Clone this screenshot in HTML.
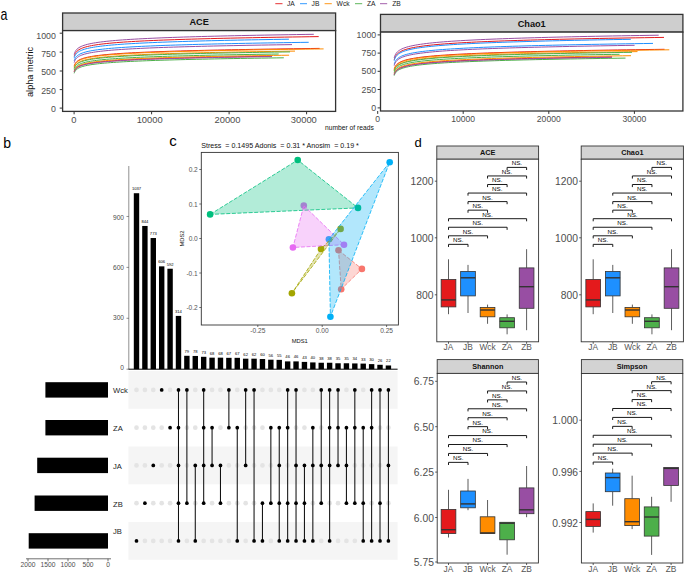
<!DOCTYPE html>
<html>
<head>
<meta charset="utf-8">
<title>Figure</title>
<style>
html, body { margin: 0; padding: 0; background: #ffffff; }
body { width: 685px; height: 574px; overflow: hidden; font-family: "Liberation Sans", sans-serif; }
svg { display: block; }
svg text { font-family: "Liberation Sans", sans-serif; }
</style>
</head>
<body>
<svg width="685" height="574" viewBox="0 0 685 574">
<rect x="0" y="0" width="685" height="574" fill="#ffffff"/>
<text x="0.00" y="0.00" font-size="16.0" fill="#000" text-anchor="start" font-weight="normal" transform="translate(0.4,19.7) scale(0.78,1)">a</text>
<text x="3.20" y="147.80" font-size="14" fill="#000" text-anchor="start" font-weight="normal" >b</text>
<text x="169.20" y="145.60" font-size="15" fill="#000" text-anchor="start" font-weight="normal" >c</text>
<text x="414.60" y="147.00" font-size="13" fill="#000" text-anchor="start" font-weight="normal" >d</text>
<line x1="275.30" y1="3.70" x2="282.50" y2="3.70" stroke="#E41A1C" stroke-width="0.9" />
<text x="286.90" y="6.10" font-size="6.7" fill="#1a1a1a" text-anchor="start" font-weight="normal" >JA</text>
<line x1="300.00" y1="3.70" x2="307.00" y2="3.70" stroke="#1E90FF" stroke-width="0.9" />
<text x="311.60" y="6.10" font-size="6.7" fill="#1a1a1a" text-anchor="start" font-weight="normal" >JB</text>
<line x1="324.60" y1="3.70" x2="331.80" y2="3.70" stroke="#FF8C00" stroke-width="0.9" />
<text x="336.60" y="6.10" font-size="6.7" fill="#1a1a1a" text-anchor="start" font-weight="normal" >Wck</text>
<line x1="355.00" y1="3.70" x2="362.20" y2="3.70" stroke="#4DAF4A" stroke-width="0.9" />
<text x="367.00" y="6.10" font-size="6.7" fill="#1a1a1a" text-anchor="start" font-weight="normal" >ZA</text>
<line x1="380.00" y1="3.70" x2="387.20" y2="3.70" stroke="#984EA3" stroke-width="0.9" />
<text x="392.20" y="6.10" font-size="6.7" fill="#1a1a1a" text-anchor="start" font-weight="normal" >ZB</text>
<rect x="62.60" y="13.00" width="273.00" height="17.60" fill="#cecece" stroke="#333" stroke-width="1.3" />
<rect x="62.60" y="30.60" width="273.00" height="80.80" fill="#fff" stroke="#333" stroke-width="1.3" />
<text x="199.10" y="25.30" font-size="9.2" fill="#111" text-anchor="middle" font-weight="bold" >ACE</text>
<line x1="59.70" y1="33.20" x2="62.60" y2="33.20" stroke="#333" stroke-width="1.0" />
<text x="55.90" y="38.50" font-size="8.8" fill="#4d4d4d" text-anchor="end" font-weight="normal" >1000</text>
<line x1="59.70" y1="52.10" x2="62.60" y2="52.10" stroke="#333" stroke-width="1.0" />
<text x="55.90" y="56.70" font-size="8.8" fill="#4d4d4d" text-anchor="end" font-weight="normal" >750</text>
<line x1="59.70" y1="71.00" x2="62.60" y2="71.00" stroke="#333" stroke-width="1.0" />
<text x="55.90" y="75.30" font-size="8.8" fill="#4d4d4d" text-anchor="end" font-weight="normal" >500</text>
<line x1="59.70" y1="89.60" x2="62.60" y2="89.60" stroke="#333" stroke-width="1.0" />
<text x="55.90" y="93.60" font-size="8.8" fill="#4d4d4d" text-anchor="end" font-weight="normal" >250</text>
<line x1="59.70" y1="108.10" x2="62.60" y2="108.10" stroke="#333" stroke-width="1.0" />
<text x="55.90" y="111.80" font-size="8.8" fill="#4d4d4d" text-anchor="end" font-weight="normal" >0</text>
<line x1="74.10" y1="111.40" x2="74.10" y2="114.30" stroke="#333" stroke-width="1.0" />
<text x="73.90" y="122.90" font-size="9.4" fill="#4d4d4d" text-anchor="middle" font-weight="normal" >0</text>
<line x1="151.60" y1="111.40" x2="151.60" y2="114.30" stroke="#333" stroke-width="1.0" />
<text x="149.70" y="122.90" font-size="9.4" fill="#4d4d4d" text-anchor="middle" font-weight="normal" >10000</text>
<line x1="229.10" y1="111.40" x2="229.10" y2="114.30" stroke="#333" stroke-width="1.0" />
<text x="227.50" y="122.90" font-size="9.4" fill="#4d4d4d" text-anchor="middle" font-weight="normal" >20000</text>
<line x1="306.60" y1="111.40" x2="306.60" y2="114.30" stroke="#333" stroke-width="1.0" />
<text x="303.80" y="122.90" font-size="9.4" fill="#4d4d4d" text-anchor="middle" font-weight="normal" >30000</text>
<text x="0.00" y="0.00" font-size="9.2" fill="#111" text-anchor="middle" font-weight="normal" transform="translate(33.0,72) rotate(-90)">alpha metric</text>
<text x="349.40" y="130.30" font-size="6.7" fill="#111" text-anchor="middle" font-weight="normal" >number of reads</text>
<polyline points="74.20,56.44 74.23,56.32 74.34,55.89 74.54,55.23 74.83,54.43 75.23,53.57 75.74,52.72 76.37,51.90 77.10,51.13 77.96,50.41 78.95,49.73 80.05,49.10 81.29,48.51 82.65,47.96 84.15,47.44 85.78,46.95 87.55,46.49 89.45,46.05 91.50,45.63 93.68,45.24 96.01,44.86 98.48,44.50 101.10,44.16 103.86,43.83 106.77,43.51 109.83,43.21 113.04,42.92 116.40,42.63 119.92,42.36 123.59,42.10 127.41,41.84 131.39,41.60 135.53,41.36 139.83,41.13 144.28,40.90 148.90,40.68 153.67,40.47 158.61,40.26 163.71,40.06 168.97,39.87 174.40,39.68 180.00,39.49 185.76,39.31 191.68,39.13 197.78,38.95 204.04,38.78 210.47,38.62 217.08,38.45 223.85,38.29 230.79,38.14 237.91,37.98 245.20,37.83 252.67,37.69 260.30,37.54 268.12,37.40 276.10,37.26 284.27,37.12 292.61,36.99 301.13,36.86 309.82,36.73 318.70,36.60" fill="none" stroke="#E41A1C" stroke-width="1.0" stroke-linejoin="round"/>
<polyline points="74.20,66.09 74.23,65.97 74.34,65.60 74.54,65.00 74.83,64.29 75.24,63.52 75.75,62.76 76.37,62.04 77.12,61.35 77.98,60.70 78.96,60.10 80.07,59.54 81.31,59.01 82.68,58.52 84.19,58.06 85.82,57.62 87.60,57.21 89.51,56.82 91.56,56.45 93.75,56.10 96.09,55.76 98.57,55.44 101.19,55.13 103.97,54.84 106.89,54.56 109.96,54.29 113.18,54.03 116.56,53.78 120.09,53.53 123.77,53.30 127.61,53.07 131.60,52.85 135.76,52.64 140.07,52.43 144.54,52.23 149.17,52.04 153.96,51.85 158.92,51.66 164.04,51.49 169.32,51.31 174.77,51.14 180.39,50.97 186.17,50.81 192.12,50.65 198.23,50.50 204.52,50.35 210.98,50.20 217.60,50.05 224.40,49.91 231.37,49.77 238.51,49.63 245.83,49.50 253.32,49.37 260.99,49.24 268.83,49.11 276.85,48.99 285.04,48.87 293.41,48.75 301.96,48.63 310.69,48.51 319.60,48.40" fill="none" stroke="#E41A1C" stroke-width="1.0" stroke-linejoin="round"/>
<polyline points="74.20,71.85 74.22,71.76 74.31,71.48 74.47,71.02 74.71,70.44 75.04,69.82 75.45,69.18 75.95,68.55 76.55,67.96 77.25,67.39 78.04,66.86 78.94,66.36 79.93,65.89 81.04,65.44 82.25,65.03 83.57,64.63 85.00,64.26 86.54,63.91 88.19,63.57 89.96,63.25 91.84,62.94 93.84,62.65 95.96,62.37 98.19,62.10 100.55,61.85 103.02,61.60 105.62,61.36 108.34,61.13 111.19,60.91 114.15,60.69 117.25,60.49 120.47,60.28 123.82,60.09 127.29,59.90 130.90,59.72 134.63,59.54 138.49,59.36 142.49,59.20 146.61,59.03 150.87,58.87 155.26,58.71 159.79,58.56 164.45,58.41 169.24,58.27 174.17,58.12 179.24,57.99 184.45,57.85 189.79,57.72 195.27,57.59 200.88,57.46 206.64,57.33 212.54,57.21 218.58,57.09 224.76,56.97 231.08,56.85 237.54,56.74 244.14,56.63 250.89,56.52 257.78,56.41 264.82,56.30 272.00,56.20" fill="none" stroke="#E41A1C" stroke-width="1.0" stroke-linejoin="round"/>
<polyline points="74.20,58.13 74.23,58.02 74.32,57.65 74.49,57.07 74.76,56.35 75.11,55.56 75.55,54.78 76.10,54.01 76.75,53.28 77.51,52.60 78.37,51.95 79.34,51.35 80.42,50.78 81.62,50.25 82.94,49.75 84.37,49.27 85.92,48.82 87.59,48.40 89.39,48.00 91.31,47.61 93.35,47.25 95.52,46.90 97.82,46.57 100.24,46.25 102.80,45.94 105.49,45.64 108.31,45.36 111.26,45.08 114.35,44.82 117.57,44.56 120.93,44.31 124.42,44.07 128.06,43.84 131.83,43.61 135.74,43.40 139.79,43.18 143.99,42.98 148.32,42.77 152.80,42.58 157.42,42.39 162.19,42.20 167.10,42.02 172.16,41.84 177.36,41.67 182.72,41.50 188.22,41.33 193.86,41.17 199.66,41.01 205.61,40.85 211.71,40.70 217.96,40.55 224.36,40.40 230.91,40.26 237.62,40.12 244.48,39.98 251.50,39.84 258.66,39.71 265.99,39.58 273.47,39.45 281.11,39.32 288.90,39.20" fill="none" stroke="#1E90FF" stroke-width="1.0" stroke-linejoin="round"/>
<polyline points="74.20,60.96 74.23,60.84 74.33,60.46 74.52,59.85 74.81,59.11 75.19,58.32 75.68,57.52 76.28,56.76 76.99,56.04 77.81,55.36 78.75,54.72 79.81,54.13 81.00,53.57 82.31,53.05 83.74,52.56 85.31,52.10 87.00,51.66 88.83,51.24 90.79,50.85 92.88,50.48 95.12,50.12 97.49,49.78 100.00,49.46 102.65,49.15 105.44,48.85 108.37,48.56 111.45,48.28 114.68,48.01 118.05,47.76 121.57,47.51 125.24,47.27 129.05,47.03 133.02,46.81 137.14,46.59 141.41,46.37 145.84,46.17 150.42,45.97 155.16,45.77 160.05,45.58 165.10,45.39 170.30,45.21 175.67,45.04 181.19,44.86 186.88,44.69 192.72,44.53 198.73,44.37 204.90,44.21 211.23,44.06 217.73,43.90 224.39,43.76 231.22,43.61 238.21,43.47 245.37,43.33 252.69,43.19 260.18,43.06 267.85,42.93 275.68,42.80 283.68,42.67 291.85,42.54 300.19,42.42 308.70,42.30" fill="none" stroke="#1E90FF" stroke-width="1.0" stroke-linejoin="round"/>
<polyline points="74.20,66.55 74.23,66.43 74.34,66.05 74.54,65.45 74.84,64.73 75.25,63.97 75.77,63.21 76.41,62.48 77.16,61.79 78.04,61.15 79.04,60.55 80.17,59.99 81.43,59.46 82.82,58.97 84.35,58.51 86.01,58.08 87.82,57.67 89.76,57.28 91.84,56.91 94.07,56.56 96.44,56.22 98.97,55.91 101.63,55.60 104.45,55.31 107.42,55.03 110.54,54.76 113.82,54.50 117.25,54.25 120.83,54.01 124.58,53.77 128.48,53.55 132.54,53.33 136.76,53.12 141.14,52.91 145.69,52.71 150.39,52.52 155.26,52.33 160.30,52.15 165.50,51.97 170.87,51.80 176.41,51.63 182.12,51.46 187.99,51.30 194.04,51.14 200.25,50.99 206.64,50.84 213.21,50.69 219.94,50.54 226.85,50.40 233.93,50.26 241.19,50.13 248.63,49.99 256.24,49.86 264.03,49.74 272.00,49.61 280.15,49.49 288.48,49.36 296.99,49.25 305.68,49.13 314.55,49.01 323.60,48.90" fill="none" stroke="#FF8C00" stroke-width="1.0" stroke-linejoin="round"/>
<polyline points="74.20,67.98 74.23,67.88 74.32,67.54 74.50,67.01 74.77,66.36 75.13,65.66 75.59,64.95 76.16,64.27 76.82,63.61 77.60,63.00 78.49,62.43 79.49,61.89 80.60,61.38 81.83,60.91 83.19,60.46 84.66,60.04 86.25,59.64 87.97,59.27 89.82,58.91 91.79,58.57 93.89,58.24 96.13,57.93 98.49,57.64 100.98,57.35 103.61,57.08 106.38,56.82 109.28,56.56 112.31,56.32 115.49,56.08 118.80,55.86 122.25,55.64 125.85,55.42 129.59,55.22 133.46,55.02 137.49,54.82 141.66,54.63 145.97,54.45 150.43,54.27 155.03,54.10 159.79,53.93 164.69,53.76 169.74,53.60 174.94,53.44 180.30,53.29 185.80,53.14 191.46,52.99 197.26,52.85 203.23,52.70 209.34,52.57 215.62,52.43 222.04,52.30 228.63,52.17 235.37,52.04 242.26,51.92 249.32,51.79 256.53,51.67 263.91,51.55 271.44,51.44 279.13,51.32 286.98,51.21 295.00,51.10" fill="none" stroke="#FF8C00" stroke-width="1.0" stroke-linejoin="round"/>
<polyline points="74.20,71.26 74.23,71.17 74.32,70.86 74.50,70.36 74.76,69.75 75.11,69.08 75.56,68.42 76.10,67.77 76.75,67.15 77.51,66.56 78.37,66.02 79.34,65.50 80.43,65.02 81.63,64.57 82.95,64.15 84.38,63.74 85.93,63.37 87.61,63.01 89.40,62.66 91.32,62.34 93.37,62.03 95.54,61.73 97.84,61.45 100.27,61.18 102.83,60.92 105.52,60.66 108.34,60.42 111.29,60.19 114.38,59.97 117.61,59.75 120.97,59.54 124.47,59.33 128.11,59.14 131.88,58.95 135.80,58.76 139.85,58.58 144.05,58.40 148.39,58.23 152.87,58.06 157.50,57.90 162.27,57.74 167.19,57.59 172.25,57.44 177.46,57.29 182.82,57.15 188.32,57.01 193.98,56.87 199.78,56.73 205.73,56.60 211.84,56.47 218.09,56.35 224.50,56.22 231.06,56.10 237.77,55.98 244.64,55.86 251.66,55.75 258.84,55.63 266.17,55.52 273.66,55.41 281.30,55.31 289.10,55.20" fill="none" stroke="#FF8C00" stroke-width="1.0" stroke-linejoin="round"/>
<polyline points="74.20,68.56 74.23,68.47 74.32,68.14 74.50,67.63 74.76,66.99 75.11,66.30 75.56,65.61 76.11,64.93 76.76,64.29 77.52,63.69 78.39,63.12 79.37,62.59 80.46,62.09 81.66,61.62 82.98,61.18 84.42,60.76 85.98,60.37 87.66,59.99 89.47,59.64 91.39,59.30 93.45,58.98 95.63,58.67 97.94,58.38 100.38,58.10 102.95,57.83 105.65,57.57 108.48,57.32 111.45,57.07 114.55,56.84 117.79,56.62 121.17,56.40 124.68,56.19 128.33,55.98 132.12,55.78 136.05,55.59 140.13,55.40 144.34,55.22 148.70,55.04 153.20,54.87 157.85,54.70 162.64,54.54 167.58,54.38 172.66,54.22 177.89,54.07 183.27,53.92 188.80,53.77 194.48,53.63 200.31,53.49 206.28,53.35 212.41,53.22 218.69,53.09 225.13,52.96 231.72,52.83 238.46,52.71 245.35,52.59 252.40,52.47 259.61,52.35 266.97,52.23 274.49,52.12 282.17,52.01 290.00,51.90" fill="none" stroke="#4DAF4A" stroke-width="1.0" stroke-linejoin="round"/>
<polyline points="74.20,70.13 74.23,70.04 74.32,69.74 74.48,69.26 74.73,68.66 75.06,68.00 75.49,67.34 76.01,66.69 76.63,66.07 77.35,65.49 78.17,64.94 79.10,64.42 80.13,63.94 81.27,63.48 82.52,63.05 83.89,62.65 85.36,62.27 86.96,61.90 88.67,61.56 90.49,61.23 92.44,60.91 94.51,60.61 96.70,60.33 99.01,60.05 101.44,59.79 104.00,59.53 106.69,59.29 109.50,59.05 112.44,58.83 115.51,58.61 118.71,58.39 122.04,58.19 125.50,57.99 129.09,57.79 132.82,57.61 136.68,57.42 140.67,57.24 144.80,57.07 149.07,56.90 153.47,56.74 158.01,56.58 162.69,56.42 167.51,56.27 172.46,56.12 177.56,55.97 182.80,55.83 188.18,55.69 193.70,55.55 199.37,55.42 205.18,55.29 211.13,55.16 217.23,55.03 223.47,54.91 229.86,54.79 236.39,54.67 243.07,54.55 249.90,54.44 256.88,54.33 264.00,54.22 271.28,54.11 278.70,54.00" fill="none" stroke="#4DAF4A" stroke-width="1.0" stroke-linejoin="round"/>
<polyline points="74.20,73.32 74.23,73.24 74.32,72.94 74.49,72.47 74.74,71.88 75.09,71.25 75.52,70.61 76.06,69.98 76.69,69.38 77.43,68.82 78.27,68.29 79.22,67.80 80.28,67.33 81.45,66.89 82.73,66.48 84.13,66.09 85.64,65.72 87.28,65.37 89.03,65.04 90.90,64.73 92.89,64.43 95.01,64.14 97.26,63.86 99.62,63.60 102.12,63.35 104.74,63.10 107.50,62.87 110.38,62.64 113.39,62.43 116.54,62.21 119.82,62.01 123.23,61.81 126.78,61.62 130.46,61.44 134.28,61.26 138.23,61.08 142.33,60.91 146.56,60.74 150.93,60.58 155.45,60.42 160.10,60.27 164.89,60.12 169.83,59.97 174.91,59.83 180.14,59.69 185.51,59.55 191.02,59.42 196.68,59.29 202.49,59.16 208.44,59.04 214.54,58.91 220.79,58.79 227.19,58.67 233.74,58.56 240.44,58.44 247.28,58.33 254.28,58.22 261.43,58.11 268.74,58.01 276.19,57.90 283.80,57.80" fill="none" stroke="#4DAF4A" stroke-width="1.0" stroke-linejoin="round"/>
<polyline points="74.20,54.49 74.23,54.37 74.33,53.94 74.53,53.28 74.82,52.46 75.21,51.60 75.71,50.74 76.32,49.91 77.05,49.13 77.89,48.39 78.85,47.70 79.94,47.06 81.15,46.46 82.48,45.89 83.95,45.36 85.55,44.87 87.28,44.39 89.15,43.95 91.15,43.52 93.29,43.12 95.57,42.74 97.99,42.37 100.56,42.02 103.26,41.68 106.12,41.36 109.12,41.05 112.26,40.75 115.56,40.46 119.00,40.18 122.60,39.92 126.35,39.66 130.25,39.40 134.30,39.16 138.51,38.92 142.88,38.69 147.40,38.47 152.08,38.25 156.92,38.04 161.92,37.84 167.07,37.64 172.39,37.44 177.88,37.25 183.52,37.06 189.33,36.88 195.30,36.70 201.44,36.53 207.74,36.36 214.21,36.19 220.85,36.03 227.66,35.87 234.63,35.71 241.77,35.56 249.09,35.41 256.57,35.26 264.23,35.12 272.06,34.98 280.06,34.84 288.23,34.70 296.58,34.56 305.10,34.43 313.80,34.30" fill="none" stroke="#984EA3" stroke-width="1.0" stroke-linejoin="round"/>
<polyline points="74.20,62.60 74.23,62.50 74.32,62.15 74.50,61.59 74.76,60.89 75.12,60.15 75.57,59.40 76.13,58.67 76.79,57.97 77.55,57.32 78.43,56.71 79.41,56.13 80.51,55.59 81.73,55.09 83.06,54.61 84.52,54.16 86.09,53.73 87.79,53.33 89.61,52.95 91.55,52.59 93.63,52.24 95.83,51.91 98.16,51.59 100.62,51.29 103.21,50.99 105.94,50.71 108.80,50.44 111.79,50.18 114.93,49.93 118.19,49.69 121.60,49.45 125.15,49.22 128.83,49.00 132.66,48.79 136.63,48.58 140.74,48.38 144.99,48.18 149.39,47.99 153.94,47.80 158.62,47.62 163.46,47.45 168.44,47.27 173.57,47.10 178.85,46.94 184.28,46.78 189.86,46.62 195.59,46.47 201.47,46.32 207.51,46.17 213.69,46.02 220.03,45.88 226.53,45.74 233.18,45.61 239.98,45.47 246.94,45.34 254.06,45.21 261.33,45.09 268.76,44.96 276.35,44.84 284.09,44.72 292.00,44.60" fill="none" stroke="#984EA3" stroke-width="1.0" stroke-linejoin="round"/>
<polyline points="74.20,72.18 74.22,72.09 74.31,71.81 74.47,71.35 74.71,70.78 75.04,70.16 75.45,69.52 75.95,68.90 76.55,68.30 77.25,67.74 78.04,67.21 78.94,66.71 79.93,66.24 81.04,65.80 82.25,65.39 83.57,64.99 85.00,64.62 86.54,64.27 88.19,63.94 89.96,63.62 91.84,63.31 93.84,63.02 95.96,62.74 98.19,62.48 100.55,62.22 103.02,61.97 105.62,61.74 108.34,61.51 111.19,61.29 114.15,61.07 117.25,60.87 120.47,60.67 123.82,60.47 127.29,60.28 130.90,60.10 134.63,59.92 138.49,59.75 142.49,59.58 146.61,59.42 150.87,59.26 155.26,59.10 159.79,58.95 164.45,58.80 169.24,58.66 174.17,58.52 179.24,58.38 184.45,58.24 189.79,58.11 195.27,57.98 200.88,57.85 206.64,57.73 212.54,57.60 218.58,57.48 224.76,57.37 231.08,57.25 237.54,57.14 244.14,57.03 250.89,56.92 257.78,56.81 264.82,56.70 272.00,56.60" fill="none" stroke="#984EA3" stroke-width="1.0" stroke-linejoin="round"/>
<rect x="380.50" y="14.40" width="302.40" height="17.70" fill="#cecece" stroke="#333" stroke-width="1.3" />
<rect x="380.50" y="32.10" width="302.40" height="78.90" fill="#fff" stroke="#333" stroke-width="1.3" />
<text x="531.70" y="26.60" font-size="9.2" fill="#111" text-anchor="middle" font-weight="bold" >Chao1</text>
<line x1="377.60" y1="34.90" x2="380.50" y2="34.90" stroke="#333" stroke-width="1.0" />
<text x="376.20" y="38.00" font-size="8.8" fill="#4d4d4d" text-anchor="end" font-weight="normal" >1000</text>
<line x1="377.60" y1="53.10" x2="380.50" y2="53.10" stroke="#333" stroke-width="1.0" />
<text x="376.20" y="56.20" font-size="8.8" fill="#4d4d4d" text-anchor="end" font-weight="normal" >750</text>
<line x1="377.60" y1="71.30" x2="380.50" y2="71.30" stroke="#333" stroke-width="1.0" />
<text x="376.20" y="74.40" font-size="8.8" fill="#4d4d4d" text-anchor="end" font-weight="normal" >500</text>
<line x1="377.60" y1="89.50" x2="380.50" y2="89.50" stroke="#333" stroke-width="1.0" />
<text x="376.20" y="92.60" font-size="8.8" fill="#4d4d4d" text-anchor="end" font-weight="normal" >250</text>
<line x1="377.60" y1="107.90" x2="380.50" y2="107.90" stroke="#333" stroke-width="1.0" />
<text x="376.20" y="111.00" font-size="8.8" fill="#4d4d4d" text-anchor="end" font-weight="normal" >0</text>
<line x1="377.70" y1="111.00" x2="377.70" y2="113.90" stroke="#333" stroke-width="1.0" />
<text x="377.70" y="122.20" font-size="8.6" fill="#4d4d4d" text-anchor="middle" font-weight="normal" >0</text>
<line x1="463.20" y1="111.00" x2="463.20" y2="113.90" stroke="#333" stroke-width="1.0" />
<text x="463.20" y="122.20" font-size="8.6" fill="#4d4d4d" text-anchor="middle" font-weight="normal" >10000</text>
<line x1="548.80" y1="111.00" x2="548.80" y2="113.90" stroke="#333" stroke-width="1.0" />
<text x="548.80" y="122.20" font-size="8.6" fill="#4d4d4d" text-anchor="middle" font-weight="normal" >20000</text>
<line x1="634.40" y1="111.00" x2="634.40" y2="113.90" stroke="#333" stroke-width="1.0" />
<text x="634.40" y="122.20" font-size="8.6" fill="#4d4d4d" text-anchor="middle" font-weight="normal" >30000</text>
<polyline points="394.20,59.81 394.23,59.66 394.35,59.19 394.57,58.44 394.90,57.53 395.34,56.56 395.90,55.60 396.59,54.68 397.41,53.81 398.35,52.99 399.44,52.23 400.66,51.52 402.02,50.85 403.53,50.23 405.18,49.64 406.98,49.09 408.93,48.57 411.03,48.07 413.29,47.60 415.70,47.16 418.26,46.73 420.99,46.33 423.88,45.94 426.93,45.56 430.14,45.21 433.52,44.86 437.06,44.53 440.77,44.21 444.65,43.91 448.70,43.61 452.92,43.32 457.31,43.04 461.88,42.77 466.62,42.51 471.53,42.26 476.62,42.01 481.89,41.77 487.34,41.54 492.97,41.31 498.78,41.09 504.77,40.87 510.94,40.66 517.30,40.46 523.84,40.25 530.57,40.06 537.48,39.87 544.58,39.68 551.86,39.49 559.34,39.31 567.00,39.14 574.85,38.96 582.90,38.79 591.13,38.63 599.56,38.46 608.18,38.30 617.00,38.15 626.01,37.99 635.21,37.84 644.61,37.69 654.21,37.54 664.00,37.40" fill="none" stroke="#E41A1C" stroke-width="1.0" stroke-linejoin="round"/>
<polyline points="394.20,69.21 394.23,69.08 394.35,68.66 394.57,67.99 394.90,67.18 395.34,66.33 395.91,65.47 396.59,64.65 397.41,63.88 398.36,63.15 399.45,62.48 400.67,61.84 402.04,61.25 403.55,60.70 405.20,60.17 407.00,59.68 408.96,59.22 411.06,58.78 413.32,58.36 415.74,57.97 418.31,57.59 421.04,57.23 423.93,56.88 426.99,56.55 430.21,56.24 433.59,55.93 437.14,55.64 440.86,55.35 444.74,55.08 448.80,54.82 453.03,54.56 457.43,54.31 462.00,54.07 466.75,53.84 471.68,53.62 476.78,53.40 482.06,53.18 487.52,52.98 493.15,52.77 498.97,52.58 504.98,52.39 511.16,52.20 517.53,52.01 524.08,51.84 530.82,51.66 537.74,51.49 544.85,51.32 552.15,51.16 559.64,51.00 567.32,50.84 575.19,50.69 583.25,50.54 591.50,50.39 599.94,50.25 608.58,50.10 617.41,49.96 626.43,49.83 635.66,49.69 645.07,49.56 654.69,49.43 664.50,49.30" fill="none" stroke="#E41A1C" stroke-width="1.0" stroke-linejoin="round"/>
<polyline points="394.20,74.52 394.23,74.43 394.32,74.11 394.50,73.59 394.76,72.95 395.12,72.24 395.57,71.52 396.13,70.82 396.79,70.15 397.55,69.51 398.43,68.91 399.41,68.35 400.51,67.82 401.73,67.32 403.06,66.85 404.52,66.40 406.09,65.98 407.79,65.58 409.61,65.20 411.55,64.84 413.63,64.50 415.83,64.17 418.16,63.86 420.62,63.55 423.21,63.26 425.94,62.98 428.80,62.72 431.79,62.46 434.93,62.21 438.19,61.96 441.60,61.73 445.15,61.50 448.83,61.28 452.66,61.07 456.63,60.86 460.74,60.66 464.99,60.47 469.39,60.28 473.94,60.09 478.62,59.91 483.46,59.73 488.44,59.56 493.57,59.39 498.85,59.23 504.28,59.07 509.86,58.91 515.59,58.76 521.47,58.61 527.51,58.46 533.69,58.32 540.03,58.18 546.53,58.04 553.18,57.90 559.98,57.77 566.94,57.64 574.06,57.51 581.33,57.38 588.76,57.26 596.35,57.14 604.09,57.02 612.00,56.90" fill="none" stroke="#E41A1C" stroke-width="1.0" stroke-linejoin="round"/>
<polyline points="394.20,60.80 394.23,60.68 394.33,60.26 394.52,59.60 394.81,58.78 395.20,57.89 395.69,57.00 396.30,56.13 397.01,55.30 397.84,54.52 398.79,53.79 399.86,53.10 401.06,52.46 402.38,51.85 403.83,51.28 405.41,50.75 407.12,50.24 408.96,49.76 410.94,49.30 413.05,48.86 415.30,48.45 417.69,48.05 420.23,47.67 422.90,47.31 425.72,46.96 428.68,46.62 431.79,46.30 435.04,45.99 438.44,45.68 441.99,45.39 445.69,45.11 449.54,44.84 453.55,44.57 457.71,44.32 462.02,44.07 466.48,43.83 471.10,43.59 475.88,43.36 480.82,43.14 485.91,42.92 491.16,42.71 496.58,42.50 502.15,42.30 507.89,42.10 513.79,41.91 519.85,41.72 526.07,41.54 532.46,41.36 539.01,41.18 545.74,41.00 552.62,40.83 559.68,40.67 566.90,40.50 574.29,40.34 581.85,40.19 589.58,40.03 597.48,39.88 605.55,39.73 613.80,39.59 622.21,39.44 630.80,39.30" fill="none" stroke="#1E90FF" stroke-width="1.0" stroke-linejoin="round"/>
<polyline points="394.20,64.39 394.23,64.26 394.35,63.83 394.56,63.14 394.87,62.31 395.29,61.42 395.83,60.53 396.49,59.67 397.27,58.85 398.18,58.09 399.22,57.37 400.40,56.71 401.70,56.08 403.15,55.49 404.73,54.94 406.46,54.42 408.33,53.93 410.34,53.46 412.51,53.02 414.82,52.60 417.28,52.20 419.90,51.82 422.67,51.45 425.59,51.10 428.67,50.76 431.91,50.44 435.31,50.13 438.87,49.83 442.59,49.54 446.48,49.26 450.52,48.99 454.74,48.72 459.12,48.47 463.66,48.22 468.38,47.98 473.26,47.75 478.32,47.52 483.55,47.30 488.94,47.09 494.52,46.88 500.26,46.68 506.18,46.48 512.28,46.28 518.55,46.09 525.01,45.91 531.64,45.73 538.44,45.55 545.43,45.38 552.60,45.21 559.95,45.04 567.49,44.88 575.20,44.72 583.10,44.56 591.19,44.40 599.46,44.25 607.91,44.10 616.55,43.96 625.38,43.82 634.40,43.67 643.61,43.54 653.00,43.40" fill="none" stroke="#1E90FF" stroke-width="1.0" stroke-linejoin="round"/>
<polyline points="394.20,69.67 394.23,69.54 394.35,69.11 394.58,68.44 394.91,67.62 395.36,66.76 395.94,65.91 396.64,65.09 397.47,64.31 398.44,63.59 399.54,62.91 400.79,62.28 402.18,61.69 403.71,61.14 405.40,60.62 407.23,60.13 409.22,59.67 411.36,59.23 413.66,58.82 416.12,58.42 418.74,58.05 421.52,57.69 424.46,57.35 427.57,57.02 430.85,56.70 434.29,56.40 437.90,56.10 441.69,55.82 445.64,55.55 449.77,55.29 454.07,55.03 458.55,54.79 463.21,54.55 468.04,54.32 473.05,54.09 478.24,53.88 483.62,53.66 489.17,53.46 494.91,53.26 500.84,53.06 506.94,52.87 513.24,52.68 519.72,52.50 526.39,52.32 533.24,52.15 540.29,51.98 547.53,51.81 554.96,51.65 562.58,51.49 570.39,51.33 578.40,51.18 586.60,51.03 595.00,50.88 603.59,50.74 612.38,50.60 621.37,50.46 630.56,50.32 639.94,50.19 649.53,50.06 659.31,49.93 669.30,49.80" fill="none" stroke="#FF8C00" stroke-width="1.0" stroke-linejoin="round"/>
<polyline points="394.20,70.67 394.23,70.56 394.34,70.18 394.53,69.58 394.83,68.85 395.23,68.05 395.74,67.25 396.35,66.48 397.09,65.75 397.95,65.05 398.92,64.40 400.02,63.79 401.25,63.22 402.61,62.69 404.10,62.18 405.72,61.71 407.48,61.26 409.38,60.83 411.41,60.43 413.59,60.04 415.90,59.68 418.36,59.33 420.96,58.99 423.71,58.67 426.61,58.36 429.65,58.06 432.85,57.78 436.20,57.50 439.69,57.24 443.35,56.98 447.15,56.73 451.11,56.49 455.23,56.25 459.50,56.03 463.94,55.81 468.53,55.59 473.28,55.39 478.19,55.18 483.27,54.99 488.51,54.80 493.91,54.61 499.48,54.43 505.21,54.25 511.11,54.07 517.17,53.90 523.40,53.74 529.81,53.57 536.38,53.41 543.12,53.26 550.03,53.10 557.11,52.95 564.36,52.81 571.79,52.66 579.39,52.52 587.16,52.38 595.11,52.25 603.24,52.11 611.54,51.98 620.01,51.85 628.67,51.72 637.50,51.60" fill="none" stroke="#FF8C00" stroke-width="1.0" stroke-linejoin="round"/>
<polyline points="394.20,73.84 394.23,73.73 394.33,73.38 394.53,72.82 394.81,72.13 395.20,71.38 395.69,70.63 396.30,69.90 397.01,69.20 397.85,68.54 398.80,67.92 399.87,67.34 401.07,66.80 402.39,66.29 403.84,65.81 405.42,65.35 407.13,64.92 408.97,64.52 410.95,64.13 413.07,63.76 415.32,63.41 417.71,63.08 420.25,62.76 422.92,62.45 425.74,62.16 428.71,61.87 431.82,61.60 435.07,61.34 438.48,61.08 442.03,60.84 445.74,60.60 449.59,60.37 453.60,60.15 457.76,59.93 462.07,59.72 466.54,59.52 471.17,59.32 475.95,59.12 480.89,58.94 485.99,58.75 491.25,58.57 496.66,58.40 502.24,58.23 507.98,58.06 513.89,57.90 519.95,57.74 526.18,57.59 532.58,57.43 539.14,57.28 545.86,57.14 552.76,56.99 559.82,56.85 567.04,56.72 574.44,56.58 582.01,56.45 589.75,56.32 597.65,56.19 605.73,56.06 613.98,55.94 622.40,55.82 631.00,55.70" fill="none" stroke="#FF8C00" stroke-width="1.0" stroke-linejoin="round"/>
<polyline points="394.20,71.15 394.23,71.04 394.33,70.68 394.53,70.09 394.81,69.37 395.20,68.59 395.70,67.81 396.31,67.05 397.03,66.32 397.86,65.64 398.82,64.99 399.89,64.39 401.09,63.83 402.42,63.30 403.88,62.80 405.46,62.33 407.18,61.88 409.03,61.46 411.02,61.06 413.15,60.68 415.41,60.31 417.81,59.96 420.36,59.63 423.05,59.31 425.88,59.01 428.85,58.71 431.98,58.43 435.25,58.16 438.67,57.89 442.23,57.64 445.95,57.39 449.83,57.15 453.85,56.92 458.03,56.69 462.36,56.48 466.85,56.26 471.49,56.06 476.30,55.86 481.26,55.66 486.38,55.47 491.66,55.29 497.10,55.10 502.70,54.93 508.46,54.75 514.39,54.59 520.48,54.42 526.74,54.26 533.16,54.10 539.75,53.94 546.50,53.79 553.43,53.64 560.52,53.50 567.77,53.36 575.20,53.21 582.80,53.08 590.57,52.94 598.51,52.81 606.62,52.68 614.91,52.55 623.37,52.42 632.00,52.30" fill="none" stroke="#4DAF4A" stroke-width="1.0" stroke-linejoin="round"/>
<polyline points="394.20,72.56 394.23,72.46 394.33,72.12 394.51,71.57 394.78,70.89 395.15,70.15 395.62,69.40 396.20,68.67 396.88,67.97 397.67,67.31 398.57,66.69 399.59,66.10 400.73,65.56 401.99,65.04 403.37,64.55 404.87,64.09 406.50,63.66 408.25,63.25 410.14,62.86 412.15,62.49 414.30,62.13 416.57,61.79 418.98,61.47 421.53,61.16 424.21,60.86 427.03,60.57 429.99,60.29 433.09,60.02 436.33,59.77 439.71,59.52 443.23,59.28 446.90,59.04 450.71,58.82 454.67,58.60 458.78,58.38 463.03,58.18 467.43,57.97 471.98,57.78 476.68,57.59 481.53,57.40 486.53,57.22 491.69,57.04 497.00,56.87 502.46,56.70 508.07,56.53 513.85,56.37 519.77,56.21 525.86,56.06 532.10,55.91 538.50,55.76 545.06,55.61 551.77,55.47 558.65,55.33 565.69,55.19 572.89,55.06 580.25,54.93 587.77,54.80 595.46,54.67 603.31,54.54 611.32,54.42 619.50,54.30" fill="none" stroke="#4DAF4A" stroke-width="1.0" stroke-linejoin="round"/>
<polyline points="394.20,75.67 394.23,75.57 394.33,75.24 394.52,74.70 394.80,74.04 395.18,73.32 395.66,72.59 396.25,71.89 396.95,71.21 397.76,70.58 398.69,69.98 399.74,69.42 400.91,68.89 402.20,68.39 403.61,67.93 405.16,67.49 406.83,67.07 408.63,66.67 410.56,66.30 412.63,65.94 414.83,65.60 417.17,65.28 419.64,64.97 422.26,64.67 425.01,64.38 427.91,64.10 430.94,63.84 434.12,63.58 437.45,63.34 440.92,63.10 444.54,62.87 448.31,62.64 452.22,62.43 456.28,62.22 460.50,62.01 464.86,61.81 469.38,61.62 474.05,61.43 478.88,61.25 483.86,61.07 488.99,60.90 494.28,60.73 499.73,60.56 505.34,60.40 511.11,60.24 517.03,60.09 523.12,59.93 529.36,59.79 535.77,59.64 542.34,59.50 549.07,59.36 555.97,59.22 563.03,59.09 570.26,58.96 577.65,58.83 585.20,58.70 592.93,58.58 600.82,58.45 608.88,58.33 617.10,58.22 625.50,58.10" fill="none" stroke="#4DAF4A" stroke-width="1.0" stroke-linejoin="round"/>
<polyline points="394.20,57.99 394.23,57.85 394.35,57.37 394.56,56.61 394.88,55.70 395.32,54.72 395.87,53.75 396.54,52.82 397.34,51.93 398.27,51.10 399.33,50.33 400.53,49.60 401.87,48.92 403.34,48.29 404.96,47.69 406.73,47.12 408.64,46.59 410.70,46.09 412.91,45.61 415.27,45.15 417.79,44.72 420.46,44.31 423.30,43.91 426.28,43.53 429.43,43.17 432.74,42.82 436.22,42.48 439.86,42.15 443.66,41.84 447.63,41.54 451.77,41.24 456.07,40.96 460.55,40.68 465.19,40.42 470.01,40.16 475.01,39.91 480.17,39.66 485.51,39.42 491.03,39.19 496.73,38.96 502.60,38.74 508.65,38.53 514.88,38.32 521.29,38.11 527.89,37.91 534.66,37.72 541.62,37.52 548.76,37.34 556.09,37.15 563.60,36.97 571.30,36.80 579.19,36.62 587.26,36.45 595.53,36.29 603.98,36.12 612.62,35.96 621.45,35.80 630.47,35.65 639.69,35.50 649.10,35.35 658.70,35.20" fill="none" stroke="#984EA3" stroke-width="1.0" stroke-linejoin="round"/>
<polyline points="394.20,65.63 394.23,65.51 394.34,65.11 394.53,64.48 394.82,63.70 395.22,62.86 395.72,62.01 396.33,61.18 397.06,60.40 397.90,59.66 398.87,58.97 399.96,58.32 401.17,57.71 402.51,57.14 403.98,56.60 405.59,56.09 407.32,55.61 409.20,55.16 411.21,54.73 413.35,54.32 415.64,53.93 418.07,53.55 420.64,53.19 423.36,52.85 426.22,52.52 429.23,52.20 432.39,51.90 435.70,51.60 439.15,51.32 442.76,51.04 446.52,50.78 450.43,50.52 454.50,50.27 458.73,50.03 463.11,49.80 467.64,49.57 472.34,49.34 477.19,49.13 482.21,48.92 487.38,48.71 492.72,48.51 498.22,48.32 503.89,48.13 509.71,47.94 515.71,47.76 521.86,47.58 528.19,47.41 534.68,47.24 541.34,47.07 548.17,46.91 555.17,46.75 562.33,46.59 569.67,46.44 577.18,46.28 584.86,46.14 592.72,45.99 600.75,45.85 608.95,45.71 617.32,45.57 625.87,45.43 634.60,45.30" fill="none" stroke="#984EA3" stroke-width="1.0" stroke-linejoin="round"/>
<polyline points="394.20,74.84 394.23,74.75 394.32,74.43 394.50,73.92 394.76,73.27 395.12,72.57 395.57,71.86 396.13,71.16 396.79,70.49 397.55,69.85 398.43,69.26 399.41,68.69 400.51,68.17 401.73,67.67 403.06,67.20 404.52,66.76 406.09,66.34 407.79,65.94 409.61,65.57 411.55,65.21 413.63,64.86 415.83,64.54 418.16,64.22 420.62,63.92 423.21,63.63 425.94,63.36 428.80,63.09 431.79,62.83 434.93,62.58 438.19,62.34 441.60,62.11 445.15,61.88 448.83,61.66 452.66,61.45 456.63,61.25 460.74,61.05 464.99,60.85 469.39,60.66 473.94,60.48 478.62,60.30 483.46,60.12 488.44,59.95 493.57,59.78 498.85,59.62 504.28,59.46 509.86,59.30 515.59,59.15 521.47,59.00 527.51,58.85 533.69,58.71 540.03,58.57 546.53,58.43 553.18,58.30 559.98,58.16 566.94,58.03 574.06,57.91 581.33,57.78 588.76,57.66 596.35,57.54 604.09,57.42 612.00,57.30" fill="none" stroke="#984EA3" stroke-width="1.0" stroke-linejoin="round"/>
<rect x="128.40" y="371.00" width="269.20" height="37.80" fill="#f5f5f5" stroke="none" stroke-width="1" />
<rect x="128.40" y="446.50" width="269.20" height="37.80" fill="#f5f5f5" stroke="none" stroke-width="1" />
<rect x="128.40" y="522.00" width="269.20" height="37.80" fill="#f5f5f5" stroke="none" stroke-width="1" />
<line x1="128.80" y1="166.00" x2="128.80" y2="369.20" stroke="#444" stroke-width="0.6" />
<line x1="126.50" y1="369.20" x2="128.80" y2="369.20" stroke="#444" stroke-width="0.6" />
<text x="124.00" y="369.75" font-size="6.6" fill="#4d4d4d" text-anchor="end" font-weight="normal" >0</text>
<line x1="126.50" y1="318.29" x2="128.80" y2="318.29" stroke="#444" stroke-width="0.6" />
<text x="124.00" y="320.05" font-size="6.6" fill="#4d4d4d" text-anchor="end" font-weight="normal" >300</text>
<line x1="126.50" y1="267.38" x2="128.80" y2="267.38" stroke="#444" stroke-width="0.6" />
<text x="124.00" y="270.35" font-size="6.6" fill="#4d4d4d" text-anchor="end" font-weight="normal" >600</text>
<line x1="126.50" y1="216.47" x2="128.80" y2="216.47" stroke="#444" stroke-width="0.6" />
<text x="124.00" y="220.45" font-size="6.6" fill="#4d4d4d" text-anchor="end" font-weight="normal" >900</text>
<rect x="133.80" y="193.22" width="5.40" height="175.98" fill="#000" stroke="none" stroke-width="1" />
<text x="136.50" y="190.22" font-size="4.15" fill="#000" text-anchor="middle" font-weight="normal" >1037</text>
<rect x="142.20" y="225.97" width="5.40" height="143.23" fill="#000" stroke="none" stroke-width="1" />
<text x="144.90" y="222.97" font-size="4.15" fill="#000" text-anchor="middle" font-weight="normal" >844</text>
<rect x="150.59" y="238.02" width="5.40" height="131.18" fill="#000" stroke="none" stroke-width="1" />
<text x="153.29" y="235.02" font-size="4.15" fill="#000" text-anchor="middle" font-weight="normal" >773</text>
<rect x="158.99" y="266.36" width="5.40" height="102.84" fill="#000" stroke="none" stroke-width="1" />
<text x="161.69" y="263.36" font-size="4.15" fill="#000" text-anchor="middle" font-weight="normal" >606</text>
<rect x="167.39" y="268.74" width="5.40" height="100.46" fill="#000" stroke="none" stroke-width="1" />
<text x="170.09" y="265.74" font-size="4.15" fill="#000" text-anchor="middle" font-weight="normal" >592</text>
<rect x="175.79" y="315.91" width="5.40" height="53.29" fill="#000" stroke="none" stroke-width="1" />
<text x="178.49" y="312.91" font-size="4.15" fill="#000" text-anchor="middle" font-weight="normal" >314</text>
<rect x="184.18" y="355.79" width="5.40" height="13.41" fill="#000" stroke="none" stroke-width="1" />
<text x="186.88" y="352.79" font-size="4.15" fill="#000" text-anchor="middle" font-weight="normal" >79</text>
<rect x="192.58" y="355.96" width="5.40" height="13.24" fill="#000" stroke="none" stroke-width="1" />
<text x="195.28" y="352.96" font-size="4.15" fill="#000" text-anchor="middle" font-weight="normal" >78</text>
<rect x="200.98" y="356.81" width="5.40" height="12.39" fill="#000" stroke="none" stroke-width="1" />
<text x="203.68" y="353.81" font-size="4.15" fill="#000" text-anchor="middle" font-weight="normal" >73</text>
<rect x="209.37" y="357.66" width="5.40" height="11.54" fill="#000" stroke="none" stroke-width="1" />
<text x="212.07" y="354.66" font-size="4.15" fill="#000" text-anchor="middle" font-weight="normal" >68</text>
<rect x="217.77" y="357.66" width="5.40" height="11.54" fill="#000" stroke="none" stroke-width="1" />
<text x="220.47" y="354.66" font-size="4.15" fill="#000" text-anchor="middle" font-weight="normal" >68</text>
<rect x="226.17" y="357.83" width="5.40" height="11.37" fill="#000" stroke="none" stroke-width="1" />
<text x="228.87" y="354.83" font-size="4.15" fill="#000" text-anchor="middle" font-weight="normal" >67</text>
<rect x="234.56" y="357.83" width="5.40" height="11.37" fill="#000" stroke="none" stroke-width="1" />
<text x="237.26" y="354.83" font-size="4.15" fill="#000" text-anchor="middle" font-weight="normal" >67</text>
<rect x="242.96" y="358.68" width="5.40" height="10.52" fill="#000" stroke="none" stroke-width="1" />
<text x="245.66" y="355.68" font-size="4.15" fill="#000" text-anchor="middle" font-weight="normal" >62</text>
<rect x="251.36" y="358.68" width="5.40" height="10.52" fill="#000" stroke="none" stroke-width="1" />
<text x="254.06" y="355.68" font-size="4.15" fill="#000" text-anchor="middle" font-weight="normal" >62</text>
<rect x="259.75" y="359.02" width="5.40" height="10.18" fill="#000" stroke="none" stroke-width="1" />
<text x="262.45" y="356.02" font-size="4.15" fill="#000" text-anchor="middle" font-weight="normal" >60</text>
<rect x="268.15" y="359.70" width="5.40" height="9.50" fill="#000" stroke="none" stroke-width="1" />
<text x="270.85" y="356.70" font-size="4.15" fill="#000" text-anchor="middle" font-weight="normal" >56</text>
<rect x="276.55" y="359.87" width="5.40" height="9.33" fill="#000" stroke="none" stroke-width="1" />
<text x="279.25" y="356.87" font-size="4.15" fill="#000" text-anchor="middle" font-weight="normal" >55</text>
<rect x="284.95" y="361.39" width="5.40" height="7.81" fill="#000" stroke="none" stroke-width="1" />
<text x="287.65" y="358.39" font-size="4.15" fill="#000" text-anchor="middle" font-weight="normal" >46</text>
<rect x="293.34" y="361.39" width="5.40" height="7.81" fill="#000" stroke="none" stroke-width="1" />
<text x="296.04" y="358.39" font-size="4.15" fill="#000" text-anchor="middle" font-weight="normal" >46</text>
<rect x="301.74" y="361.90" width="5.40" height="7.30" fill="#000" stroke="none" stroke-width="1" />
<text x="304.44" y="358.90" font-size="4.15" fill="#000" text-anchor="middle" font-weight="normal" >43</text>
<rect x="310.14" y="362.41" width="5.40" height="6.79" fill="#000" stroke="none" stroke-width="1" />
<text x="312.84" y="359.41" font-size="4.15" fill="#000" text-anchor="middle" font-weight="normal" >40</text>
<rect x="318.53" y="362.75" width="5.40" height="6.45" fill="#000" stroke="none" stroke-width="1" />
<text x="321.23" y="359.75" font-size="4.15" fill="#000" text-anchor="middle" font-weight="normal" >38</text>
<rect x="326.93" y="362.75" width="5.40" height="6.45" fill="#000" stroke="none" stroke-width="1" />
<text x="329.63" y="359.75" font-size="4.15" fill="#000" text-anchor="middle" font-weight="normal" >38</text>
<rect x="335.33" y="363.26" width="5.40" height="5.94" fill="#000" stroke="none" stroke-width="1" />
<text x="338.03" y="360.26" font-size="4.15" fill="#000" text-anchor="middle" font-weight="normal" >35</text>
<rect x="343.73" y="363.26" width="5.40" height="5.94" fill="#000" stroke="none" stroke-width="1" />
<text x="346.43" y="360.26" font-size="4.15" fill="#000" text-anchor="middle" font-weight="normal" >35</text>
<rect x="352.12" y="363.43" width="5.40" height="5.77" fill="#000" stroke="none" stroke-width="1" />
<text x="354.82" y="360.43" font-size="4.15" fill="#000" text-anchor="middle" font-weight="normal" >34</text>
<rect x="360.52" y="363.60" width="5.40" height="5.60" fill="#000" stroke="none" stroke-width="1" />
<text x="363.22" y="360.60" font-size="4.15" fill="#000" text-anchor="middle" font-weight="normal" >33</text>
<rect x="368.92" y="364.11" width="5.40" height="5.09" fill="#000" stroke="none" stroke-width="1" />
<text x="371.62" y="361.11" font-size="4.15" fill="#000" text-anchor="middle" font-weight="normal" >30</text>
<rect x="377.31" y="364.79" width="5.40" height="4.41" fill="#000" stroke="none" stroke-width="1" />
<text x="380.01" y="361.79" font-size="4.15" fill="#000" text-anchor="middle" font-weight="normal" >26</text>
<rect x="385.71" y="365.47" width="5.40" height="3.73" fill="#000" stroke="none" stroke-width="1" />
<text x="388.41" y="362.47" font-size="4.15" fill="#000" text-anchor="middle" font-weight="normal" >22</text>
<line x1="128.60" y1="369.20" x2="397.60" y2="369.20" stroke="#000" stroke-width="1.0" />
<circle cx="136.50" cy="389.90" r="2.35" fill="#e4e4e4"/>
<circle cx="136.50" cy="427.70" r="2.35" fill="#e4e4e4"/>
<circle cx="136.50" cy="465.40" r="2.35" fill="#e4e4e4"/>
<circle cx="136.50" cy="503.20" r="2.35" fill="#e4e4e4"/>
<circle cx="144.90" cy="389.90" r="2.35" fill="#e4e4e4"/>
<circle cx="144.90" cy="427.70" r="2.35" fill="#e4e4e4"/>
<circle cx="144.90" cy="465.40" r="2.35" fill="#e4e4e4"/>
<circle cx="144.90" cy="540.90" r="2.35" fill="#e4e4e4"/>
<circle cx="153.29" cy="389.90" r="2.35" fill="#e4e4e4"/>
<circle cx="153.29" cy="427.70" r="2.35" fill="#e4e4e4"/>
<circle cx="153.29" cy="503.20" r="2.35" fill="#e4e4e4"/>
<circle cx="153.29" cy="540.90" r="2.35" fill="#e4e4e4"/>
<circle cx="161.69" cy="427.70" r="2.35" fill="#e4e4e4"/>
<circle cx="161.69" cy="465.40" r="2.35" fill="#e4e4e4"/>
<circle cx="161.69" cy="503.20" r="2.35" fill="#e4e4e4"/>
<circle cx="161.69" cy="540.90" r="2.35" fill="#e4e4e4"/>
<circle cx="170.09" cy="389.90" r="2.35" fill="#e4e4e4"/>
<circle cx="170.09" cy="465.40" r="2.35" fill="#e4e4e4"/>
<circle cx="170.09" cy="503.20" r="2.35" fill="#e4e4e4"/>
<circle cx="170.09" cy="540.90" r="2.35" fill="#e4e4e4"/>
<circle cx="186.88" cy="427.70" r="2.35" fill="#e4e4e4"/>
<circle cx="186.88" cy="465.40" r="2.35" fill="#e4e4e4"/>
<circle cx="186.88" cy="540.90" r="2.35" fill="#e4e4e4"/>
<circle cx="195.28" cy="389.90" r="2.35" fill="#e4e4e4"/>
<circle cx="195.28" cy="427.70" r="2.35" fill="#e4e4e4"/>
<circle cx="195.28" cy="503.20" r="2.35" fill="#e4e4e4"/>
<circle cx="203.68" cy="540.90" r="2.35" fill="#e4e4e4"/>
<circle cx="212.07" cy="389.90" r="2.35" fill="#e4e4e4"/>
<circle cx="212.07" cy="503.20" r="2.35" fill="#e4e4e4"/>
<circle cx="212.07" cy="540.90" r="2.35" fill="#e4e4e4"/>
<circle cx="220.47" cy="389.90" r="2.35" fill="#e4e4e4"/>
<circle cx="220.47" cy="427.70" r="2.35" fill="#e4e4e4"/>
<circle cx="220.47" cy="540.90" r="2.35" fill="#e4e4e4"/>
<circle cx="228.87" cy="465.40" r="2.35" fill="#e4e4e4"/>
<circle cx="228.87" cy="503.20" r="2.35" fill="#e4e4e4"/>
<circle cx="228.87" cy="540.90" r="2.35" fill="#e4e4e4"/>
<circle cx="237.26" cy="389.90" r="2.35" fill="#e4e4e4"/>
<circle cx="237.26" cy="465.40" r="2.35" fill="#e4e4e4"/>
<circle cx="237.26" cy="503.20" r="2.35" fill="#e4e4e4"/>
<circle cx="245.66" cy="427.70" r="2.35" fill="#e4e4e4"/>
<circle cx="245.66" cy="503.20" r="2.35" fill="#e4e4e4"/>
<circle cx="245.66" cy="540.90" r="2.35" fill="#e4e4e4"/>
<circle cx="254.06" cy="427.70" r="2.35" fill="#e4e4e4"/>
<circle cx="254.06" cy="465.40" r="2.35" fill="#e4e4e4"/>
<circle cx="254.06" cy="503.20" r="2.35" fill="#e4e4e4"/>
<circle cx="262.45" cy="389.90" r="2.35" fill="#e4e4e4"/>
<circle cx="262.45" cy="427.70" r="2.35" fill="#e4e4e4"/>
<circle cx="262.45" cy="465.40" r="2.35" fill="#e4e4e4"/>
<circle cx="270.85" cy="389.90" r="2.35" fill="#e4e4e4"/>
<circle cx="270.85" cy="465.40" r="2.35" fill="#e4e4e4"/>
<circle cx="270.85" cy="540.90" r="2.35" fill="#e4e4e4"/>
<circle cx="279.25" cy="389.90" r="2.35" fill="#e4e4e4"/>
<circle cx="287.65" cy="465.40" r="2.35" fill="#e4e4e4"/>
<circle cx="296.04" cy="427.70" r="2.35" fill="#e4e4e4"/>
<circle cx="304.44" cy="389.90" r="2.35" fill="#e4e4e4"/>
<circle cx="304.44" cy="427.70" r="2.35" fill="#e4e4e4"/>
<circle cx="312.84" cy="389.90" r="2.35" fill="#e4e4e4"/>
<circle cx="312.84" cy="503.20" r="2.35" fill="#e4e4e4"/>
<circle cx="321.23" cy="427.70" r="2.35" fill="#e4e4e4"/>
<circle cx="321.23" cy="540.90" r="2.35" fill="#e4e4e4"/>
<circle cx="329.63" cy="503.20" r="2.35" fill="#e4e4e4"/>
<circle cx="338.03" cy="503.20" r="2.35" fill="#e4e4e4"/>
<circle cx="338.03" cy="540.90" r="2.35" fill="#e4e4e4"/>
<circle cx="346.43" cy="389.90" r="2.35" fill="#e4e4e4"/>
<circle cx="346.43" cy="540.90" r="2.35" fill="#e4e4e4"/>
<circle cx="354.82" cy="465.40" r="2.35" fill="#e4e4e4"/>
<circle cx="354.82" cy="540.90" r="2.35" fill="#e4e4e4"/>
<circle cx="363.22" cy="389.90" r="2.35" fill="#e4e4e4"/>
<circle cx="363.22" cy="465.40" r="2.35" fill="#e4e4e4"/>
<circle cx="371.62" cy="465.40" r="2.35" fill="#e4e4e4"/>
<circle cx="371.62" cy="503.20" r="2.35" fill="#e4e4e4"/>
<circle cx="380.01" cy="427.70" r="2.35" fill="#e4e4e4"/>
<circle cx="380.01" cy="465.40" r="2.35" fill="#e4e4e4"/>
<circle cx="388.41" cy="427.70" r="2.35" fill="#e4e4e4"/>
<circle cx="388.41" cy="503.20" r="2.35" fill="#e4e4e4"/>
<circle cx="136.50" cy="540.90" r="1.85" fill="#000"/>
<circle cx="144.90" cy="503.20" r="1.85" fill="#000"/>
<circle cx="153.29" cy="465.40" r="1.85" fill="#000"/>
<circle cx="161.69" cy="389.90" r="1.85" fill="#000"/>
<circle cx="170.09" cy="427.70" r="1.85" fill="#000"/>
<line x1="178.49" y1="389.90" x2="178.49" y2="540.90" stroke="#111" stroke-width="1.05" />
<circle cx="178.49" cy="389.90" r="1.85" fill="#000"/>
<circle cx="178.49" cy="427.70" r="1.85" fill="#000"/>
<circle cx="178.49" cy="465.40" r="1.85" fill="#000"/>
<circle cx="178.49" cy="503.20" r="1.85" fill="#000"/>
<circle cx="178.49" cy="540.90" r="1.85" fill="#000"/>
<line x1="186.88" y1="389.90" x2="186.88" y2="503.20" stroke="#111" stroke-width="1.05" />
<circle cx="186.88" cy="389.90" r="1.85" fill="#000"/>
<circle cx="186.88" cy="503.20" r="1.85" fill="#000"/>
<line x1="195.28" y1="465.40" x2="195.28" y2="540.90" stroke="#111" stroke-width="1.05" />
<circle cx="195.28" cy="465.40" r="1.85" fill="#000"/>
<circle cx="195.28" cy="540.90" r="1.85" fill="#000"/>
<line x1="203.68" y1="389.90" x2="203.68" y2="503.20" stroke="#111" stroke-width="1.05" />
<circle cx="203.68" cy="389.90" r="1.85" fill="#000"/>
<circle cx="203.68" cy="427.70" r="1.85" fill="#000"/>
<circle cx="203.68" cy="465.40" r="1.85" fill="#000"/>
<circle cx="203.68" cy="503.20" r="1.85" fill="#000"/>
<line x1="212.07" y1="427.70" x2="212.07" y2="465.40" stroke="#111" stroke-width="1.05" />
<circle cx="212.07" cy="427.70" r="1.85" fill="#000"/>
<circle cx="212.07" cy="465.40" r="1.85" fill="#000"/>
<line x1="220.47" y1="465.40" x2="220.47" y2="503.20" stroke="#111" stroke-width="1.05" />
<circle cx="220.47" cy="465.40" r="1.85" fill="#000"/>
<circle cx="220.47" cy="503.20" r="1.85" fill="#000"/>
<line x1="228.87" y1="389.90" x2="228.87" y2="427.70" stroke="#111" stroke-width="1.05" />
<circle cx="228.87" cy="389.90" r="1.85" fill="#000"/>
<circle cx="228.87" cy="427.70" r="1.85" fill="#000"/>
<line x1="237.26" y1="427.70" x2="237.26" y2="540.90" stroke="#111" stroke-width="1.05" />
<circle cx="237.26" cy="427.70" r="1.85" fill="#000"/>
<circle cx="237.26" cy="540.90" r="1.85" fill="#000"/>
<line x1="245.66" y1="389.90" x2="245.66" y2="465.40" stroke="#111" stroke-width="1.05" />
<circle cx="245.66" cy="389.90" r="1.85" fill="#000"/>
<circle cx="245.66" cy="465.40" r="1.85" fill="#000"/>
<line x1="254.06" y1="389.90" x2="254.06" y2="540.90" stroke="#111" stroke-width="1.05" />
<circle cx="254.06" cy="389.90" r="1.85" fill="#000"/>
<circle cx="254.06" cy="540.90" r="1.85" fill="#000"/>
<line x1="262.45" y1="503.20" x2="262.45" y2="540.90" stroke="#111" stroke-width="1.05" />
<circle cx="262.45" cy="503.20" r="1.85" fill="#000"/>
<circle cx="262.45" cy="540.90" r="1.85" fill="#000"/>
<line x1="270.85" y1="427.70" x2="270.85" y2="503.20" stroke="#111" stroke-width="1.05" />
<circle cx="270.85" cy="427.70" r="1.85" fill="#000"/>
<circle cx="270.85" cy="503.20" r="1.85" fill="#000"/>
<line x1="279.25" y1="427.70" x2="279.25" y2="540.90" stroke="#111" stroke-width="1.05" />
<circle cx="279.25" cy="427.70" r="1.85" fill="#000"/>
<circle cx="279.25" cy="465.40" r="1.85" fill="#000"/>
<circle cx="279.25" cy="503.20" r="1.85" fill="#000"/>
<circle cx="279.25" cy="540.90" r="1.85" fill="#000"/>
<line x1="287.65" y1="389.90" x2="287.65" y2="540.90" stroke="#111" stroke-width="1.05" />
<circle cx="287.65" cy="389.90" r="1.85" fill="#000"/>
<circle cx="287.65" cy="427.70" r="1.85" fill="#000"/>
<circle cx="287.65" cy="503.20" r="1.85" fill="#000"/>
<circle cx="287.65" cy="540.90" r="1.85" fill="#000"/>
<line x1="296.04" y1="389.90" x2="296.04" y2="540.90" stroke="#111" stroke-width="1.05" />
<circle cx="296.04" cy="389.90" r="1.85" fill="#000"/>
<circle cx="296.04" cy="465.40" r="1.85" fill="#000"/>
<circle cx="296.04" cy="503.20" r="1.85" fill="#000"/>
<circle cx="296.04" cy="540.90" r="1.85" fill="#000"/>
<line x1="304.44" y1="465.40" x2="304.44" y2="540.90" stroke="#111" stroke-width="1.05" />
<circle cx="304.44" cy="465.40" r="1.85" fill="#000"/>
<circle cx="304.44" cy="503.20" r="1.85" fill="#000"/>
<circle cx="304.44" cy="540.90" r="1.85" fill="#000"/>
<line x1="312.84" y1="427.70" x2="312.84" y2="540.90" stroke="#111" stroke-width="1.05" />
<circle cx="312.84" cy="427.70" r="1.85" fill="#000"/>
<circle cx="312.84" cy="465.40" r="1.85" fill="#000"/>
<circle cx="312.84" cy="540.90" r="1.85" fill="#000"/>
<line x1="321.23" y1="389.90" x2="321.23" y2="503.20" stroke="#111" stroke-width="1.05" />
<circle cx="321.23" cy="389.90" r="1.85" fill="#000"/>
<circle cx="321.23" cy="465.40" r="1.85" fill="#000"/>
<circle cx="321.23" cy="503.20" r="1.85" fill="#000"/>
<line x1="329.63" y1="389.90" x2="329.63" y2="540.90" stroke="#111" stroke-width="1.05" />
<circle cx="329.63" cy="389.90" r="1.85" fill="#000"/>
<circle cx="329.63" cy="427.70" r="1.85" fill="#000"/>
<circle cx="329.63" cy="465.40" r="1.85" fill="#000"/>
<circle cx="329.63" cy="540.90" r="1.85" fill="#000"/>
<line x1="338.03" y1="389.90" x2="338.03" y2="465.40" stroke="#111" stroke-width="1.05" />
<circle cx="338.03" cy="389.90" r="1.85" fill="#000"/>
<circle cx="338.03" cy="427.70" r="1.85" fill="#000"/>
<circle cx="338.03" cy="465.40" r="1.85" fill="#000"/>
<line x1="346.43" y1="427.70" x2="346.43" y2="503.20" stroke="#111" stroke-width="1.05" />
<circle cx="346.43" cy="427.70" r="1.85" fill="#000"/>
<circle cx="346.43" cy="465.40" r="1.85" fill="#000"/>
<circle cx="346.43" cy="503.20" r="1.85" fill="#000"/>
<line x1="354.82" y1="389.90" x2="354.82" y2="503.20" stroke="#111" stroke-width="1.05" />
<circle cx="354.82" cy="389.90" r="1.85" fill="#000"/>
<circle cx="354.82" cy="427.70" r="1.85" fill="#000"/>
<circle cx="354.82" cy="503.20" r="1.85" fill="#000"/>
<line x1="363.22" y1="427.70" x2="363.22" y2="540.90" stroke="#111" stroke-width="1.05" />
<circle cx="363.22" cy="427.70" r="1.85" fill="#000"/>
<circle cx="363.22" cy="503.20" r="1.85" fill="#000"/>
<circle cx="363.22" cy="540.90" r="1.85" fill="#000"/>
<line x1="371.62" y1="389.90" x2="371.62" y2="540.90" stroke="#111" stroke-width="1.05" />
<circle cx="371.62" cy="389.90" r="1.85" fill="#000"/>
<circle cx="371.62" cy="427.70" r="1.85" fill="#000"/>
<circle cx="371.62" cy="540.90" r="1.85" fill="#000"/>
<line x1="380.01" y1="389.90" x2="380.01" y2="540.90" stroke="#111" stroke-width="1.05" />
<circle cx="380.01" cy="389.90" r="1.85" fill="#000"/>
<circle cx="380.01" cy="503.20" r="1.85" fill="#000"/>
<circle cx="380.01" cy="540.90" r="1.85" fill="#000"/>
<line x1="388.41" y1="389.90" x2="388.41" y2="540.90" stroke="#111" stroke-width="1.05" />
<circle cx="388.41" cy="389.90" r="1.85" fill="#000"/>
<circle cx="388.41" cy="465.40" r="1.85" fill="#000"/>
<circle cx="388.41" cy="540.90" r="1.85" fill="#000"/>
<rect x="45.40" y="382.20" width="62.60" height="15.40" fill="#000" stroke="none" stroke-width="1" />
<text x="113.00" y="393.30" font-size="7.6" fill="#222" text-anchor="start" font-weight="normal" >Wck</text>
<rect x="45.40" y="420.00" width="62.60" height="15.40" fill="#000" stroke="none" stroke-width="1" />
<text x="113.00" y="431.10" font-size="7.6" fill="#222" text-anchor="start" font-weight="normal" >ZA</text>
<rect x="37.20" y="457.70" width="70.80" height="15.40" fill="#000" stroke="none" stroke-width="1" />
<text x="113.00" y="468.80" font-size="7.6" fill="#222" text-anchor="start" font-weight="normal" >JA</text>
<rect x="34.60" y="495.50" width="73.40" height="15.40" fill="#000" stroke="none" stroke-width="1" />
<text x="113.00" y="506.60" font-size="7.6" fill="#222" text-anchor="start" font-weight="normal" >ZB</text>
<rect x="28.70" y="533.20" width="79.30" height="15.40" fill="#000" stroke="none" stroke-width="1" />
<text x="113.00" y="533.80" font-size="7.6" fill="#222" text-anchor="start" font-weight="normal" >JB</text>
<line x1="26.00" y1="558.80" x2="111.00" y2="558.80" stroke="#333" stroke-width="0.7" />
<line x1="28.00" y1="558.80" x2="28.00" y2="561.30" stroke="#333" stroke-width="0.7" />
<text x="28.00" y="567.40" font-size="6.7" fill="#4d4d4d" text-anchor="middle" font-weight="normal" >2000</text>
<line x1="48.00" y1="558.80" x2="48.00" y2="561.30" stroke="#333" stroke-width="0.7" />
<text x="48.00" y="567.40" font-size="6.7" fill="#4d4d4d" text-anchor="middle" font-weight="normal" >1500</text>
<line x1="68.00" y1="558.80" x2="68.00" y2="561.30" stroke="#333" stroke-width="0.7" />
<text x="68.00" y="567.40" font-size="6.7" fill="#4d4d4d" text-anchor="middle" font-weight="normal" >1000</text>
<line x1="88.00" y1="558.80" x2="88.00" y2="561.30" stroke="#333" stroke-width="0.7" />
<text x="88.00" y="567.40" font-size="6.7" fill="#4d4d4d" text-anchor="middle" font-weight="normal" >500</text>
<line x1="108.00" y1="558.80" x2="108.00" y2="561.30" stroke="#333" stroke-width="0.7" />
<text x="108.00" y="567.40" font-size="6.7" fill="#4d4d4d" text-anchor="middle" font-weight="normal" >0</text>
<rect x="201.30" y="152.40" width="197.10" height="172.60" fill="#fff" stroke="#333" stroke-width="0.9" />
<text x="201.30" y="147.70" font-size="7.1" fill="#111" text-anchor="start" font-weight="normal" >Stress&#160; = 0.1495 Adonis&#160; = 0.31 * Anosim&#160; = 0.19 *</text>
<line x1="199.30" y1="169.50" x2="201.30" y2="169.50" stroke="#333" stroke-width="0.7" />
<text x="197.80" y="172.40" font-size="6.6" fill="#555" text-anchor="end" font-weight="normal" >0.2</text>
<line x1="199.30" y1="204.00" x2="201.30" y2="204.00" stroke="#333" stroke-width="0.7" />
<text x="197.80" y="206.90" font-size="6.6" fill="#555" text-anchor="end" font-weight="normal" >0.1</text>
<line x1="199.30" y1="238.50" x2="201.30" y2="238.50" stroke="#333" stroke-width="0.7" />
<text x="197.80" y="241.40" font-size="6.6" fill="#555" text-anchor="end" font-weight="normal" >0.0</text>
<line x1="199.30" y1="273.00" x2="201.30" y2="273.00" stroke="#333" stroke-width="0.7" />
<text x="197.80" y="275.90" font-size="6.6" fill="#555" text-anchor="end" font-weight="normal" >-0.1</text>
<line x1="199.30" y1="307.50" x2="201.30" y2="307.50" stroke="#333" stroke-width="0.7" />
<text x="197.80" y="310.40" font-size="6.6" fill="#555" text-anchor="end" font-weight="normal" >-0.2</text>
<line x1="257.80" y1="325.00" x2="257.80" y2="327.00" stroke="#333" stroke-width="0.7" />
<text x="257.80" y="332.60" font-size="6.6" fill="#555" text-anchor="middle" font-weight="normal" >-0.25</text>
<line x1="322.20" y1="325.00" x2="322.20" y2="327.00" stroke="#333" stroke-width="0.7" />
<text x="322.20" y="332.60" font-size="6.6" fill="#555" text-anchor="middle" font-weight="normal" >0.00</text>
<line x1="386.60" y1="325.00" x2="386.60" y2="327.00" stroke="#333" stroke-width="0.7" />
<text x="386.60" y="332.60" font-size="6.6" fill="#555" text-anchor="middle" font-weight="normal" >0.25</text>
<text x="299.70" y="342.80" font-size="5.8" fill="#111" text-anchor="middle" font-weight="normal" >MDS1</text>
<text x="0.00" y="0.00" font-size="5.8" fill="#111" text-anchor="middle" font-weight="normal" transform="translate(184.2,238.5) rotate(-90)">MDS2</text>
<circle cx="210.10" cy="214.40" r="3.3" fill="#00BF7D"/>
<circle cx="297.70" cy="160.00" r="3.3" fill="#00BF7D"/>
<circle cx="358.00" cy="207.90" r="3.3" fill="#00BF7D"/>
<circle cx="303.80" cy="205.60" r="3.3" fill="#E76BF3"/>
<circle cx="344.00" cy="244.70" r="3.3" fill="#E76BF3"/>
<circle cx="292.90" cy="247.50" r="3.3" fill="#E76BF3"/>
<circle cx="340.60" cy="228.90" r="3.3" fill="#A3A500"/>
<circle cx="321.00" cy="249.00" r="3.3" fill="#A3A500"/>
<circle cx="291.90" cy="293.30" r="3.3" fill="#A3A500"/>
<circle cx="338.50" cy="250.20" r="3.3" fill="#F8766D"/>
<circle cx="361.90" cy="268.90" r="3.3" fill="#F8766D"/>
<circle cx="341.20" cy="289.30" r="3.3" fill="#F8766D"/>
<circle cx="389.70" cy="162.20" r="3.3" fill="#00B0F6"/>
<circle cx="328.90" cy="239.30" r="3.3" fill="#00B0F6"/>
<circle cx="330.40" cy="316.70" r="3.3" fill="#00B0F6"/>
<polygon points="210.10,214.40 297.70,160.00 358.00,207.90" fill="#00BF7D" fill-opacity="0.3" stroke="#00BF7D" stroke-width="0.8" stroke-dasharray="4 1.6" stroke-linejoin="round"/>
<polygon points="303.80,205.60 344.00,244.70 292.90,247.50" fill="#E76BF3" fill-opacity="0.3" stroke="#E76BF3" stroke-width="0.8" stroke-dasharray="4 1.6" stroke-linejoin="round"/>
<polygon points="340.60,228.90 321.00,249.00 291.90,293.30" fill="#A3A500" fill-opacity="0.3" stroke="#A3A500" stroke-width="0.8" stroke-dasharray="4 1.6" stroke-linejoin="round"/>
<polygon points="338.50,250.20 361.90,268.90 341.20,289.30" fill="#F8766D" fill-opacity="0.3" stroke="#F8766D" stroke-width="0.8" stroke-dasharray="4 1.6" stroke-linejoin="round"/>
<polygon points="389.70,162.20 328.90,239.30 330.40,316.70" fill="#00B0F6" fill-opacity="0.3" stroke="#00B0F6" stroke-width="0.8" stroke-dasharray="4 1.6" stroke-linejoin="round"/>
<rect x="436.80" y="146.00" width="101.80" height="13.20" fill="#d3d3d3" stroke="#333" stroke-width="0.9" />
<rect x="436.80" y="159.20" width="101.80" height="182.60" fill="#fff" stroke="#333" stroke-width="0.9" />
<text x="487.70" y="155.20" font-size="7.3" fill="#111" text-anchor="middle" font-weight="bold" >ACE</text>
<line x1="434.80" y1="181.20" x2="436.80" y2="181.20" stroke="#333" stroke-width="0.8" />
<text x="433.50" y="185.30" font-size="10.3" fill="#4d4d4d" text-anchor="end" font-weight="normal" >1200</text>
<line x1="434.80" y1="237.80" x2="436.80" y2="237.80" stroke="#333" stroke-width="0.8" />
<text x="433.50" y="241.90" font-size="10.3" fill="#4d4d4d" text-anchor="end" font-weight="normal" >1000</text>
<line x1="434.80" y1="294.80" x2="436.80" y2="294.80" stroke="#333" stroke-width="0.8" />
<text x="433.50" y="298.90" font-size="10.3" fill="#4d4d4d" text-anchor="end" font-weight="normal" >800</text>
<line x1="448.50" y1="341.80" x2="448.50" y2="343.80" stroke="#333" stroke-width="0.8" />
<text x="448.50" y="350.20" font-size="8.4" fill="#555" text-anchor="middle" font-weight="normal" >JA</text>
<line x1="468.00" y1="341.80" x2="468.00" y2="343.80" stroke="#333" stroke-width="0.8" />
<text x="468.00" y="350.20" font-size="8.4" fill="#555" text-anchor="middle" font-weight="normal" >JB</text>
<line x1="487.55" y1="341.80" x2="487.55" y2="343.80" stroke="#333" stroke-width="0.8" />
<text x="487.55" y="350.20" font-size="8.4" fill="#555" text-anchor="middle" font-weight="normal" >Wck</text>
<line x1="507.10" y1="341.80" x2="507.10" y2="343.80" stroke="#333" stroke-width="0.8" />
<text x="507.10" y="350.20" font-size="8.4" fill="#555" text-anchor="middle" font-weight="normal" >ZA</text>
<line x1="526.60" y1="341.80" x2="526.60" y2="343.80" stroke="#333" stroke-width="0.8" />
<text x="526.60" y="350.20" font-size="8.4" fill="#555" text-anchor="middle" font-weight="normal" >ZB</text>
<polyline points="448.50,246.95 448.50,244.35 468.00,244.35 468.00,246.95" fill="none" stroke="#1a1a1a" stroke-width="1.0"/>
<text x="458.25" y="242.25" font-size="6.25" fill="#000" text-anchor="middle" font-weight="normal" >NS.</text>
<polyline points="448.50,238.40 448.50,235.80 487.55,235.80 487.55,238.40" fill="none" stroke="#1a1a1a" stroke-width="1.0"/>
<text x="468.02" y="233.70" font-size="6.25" fill="#000" text-anchor="middle" font-weight="normal" >NS.</text>
<polyline points="448.50,229.85 448.50,227.25 507.10,227.25 507.10,229.85" fill="none" stroke="#1a1a1a" stroke-width="1.0"/>
<text x="477.80" y="225.15" font-size="6.25" fill="#000" text-anchor="middle" font-weight="normal" >NS.</text>
<polyline points="448.50,221.30 448.50,218.70 526.60,218.70 526.60,221.30" fill="none" stroke="#1a1a1a" stroke-width="1.0"/>
<text x="487.55" y="216.60" font-size="6.25" fill="#000" text-anchor="middle" font-weight="normal" >NS.</text>
<polyline points="468.00,212.75 468.00,210.15 487.55,210.15 487.55,212.75" fill="none" stroke="#1a1a1a" stroke-width="1.0"/>
<text x="477.77" y="208.05" font-size="6.25" fill="#000" text-anchor="middle" font-weight="normal" >NS.</text>
<polyline points="468.00,204.20 468.00,201.60 507.10,201.60 507.10,204.20" fill="none" stroke="#1a1a1a" stroke-width="1.0"/>
<text x="487.55" y="199.50" font-size="6.25" fill="#000" text-anchor="middle" font-weight="normal" >NS.</text>
<polyline points="468.00,195.65 468.00,193.05 526.60,193.05 526.60,195.65" fill="none" stroke="#1a1a1a" stroke-width="1.0"/>
<text x="497.30" y="190.95" font-size="6.25" fill="#000" text-anchor="middle" font-weight="normal" >NS.</text>
<polyline points="487.55,187.10 487.55,184.50 507.10,184.50 507.10,187.10" fill="none" stroke="#1a1a1a" stroke-width="1.0"/>
<text x="497.33" y="182.40" font-size="6.25" fill="#000" text-anchor="middle" font-weight="normal" >NS.</text>
<polyline points="487.55,178.55 487.55,175.95 526.60,175.95 526.60,178.55" fill="none" stroke="#1a1a1a" stroke-width="1.0"/>
<text x="507.08" y="173.85" font-size="6.25" fill="#000" text-anchor="middle" font-weight="normal" >NS.</text>
<polyline points="507.10,170.00 507.10,167.40 526.60,167.40 526.60,170.00" fill="none" stroke="#1a1a1a" stroke-width="1.0"/>
<text x="516.85" y="165.30" font-size="6.25" fill="#000" text-anchor="middle" font-weight="normal" >NS.</text>
<line x1="448.50" y1="259.30" x2="448.50" y2="279.50" stroke="#333" stroke-width="0.8" />
<line x1="448.50" y1="306.90" x2="448.50" y2="314.20" stroke="#333" stroke-width="0.8" />
<rect x="441.15" y="279.50" width="14.70" height="27.40" fill="#E41A1C" stroke="#333" stroke-width="0.8" />
<line x1="441.15" y1="299.90" x2="455.85" y2="299.90" stroke="#333" stroke-width="1.4" />
<line x1="468.00" y1="264.90" x2="468.00" y2="271.50" stroke="#333" stroke-width="0.8" />
<line x1="468.00" y1="295.90" x2="468.00" y2="313.00" stroke="#333" stroke-width="0.8" />
<rect x="460.65" y="271.50" width="14.70" height="24.40" fill="#1E90FF" stroke="#333" stroke-width="0.8" />
<line x1="460.65" y1="277.80" x2="475.35" y2="277.80" stroke="#333" stroke-width="1.4" />
<line x1="487.55" y1="304.60" x2="487.55" y2="307.40" stroke="#333" stroke-width="0.8" />
<line x1="487.55" y1="316.80" x2="487.55" y2="323.80" stroke="#333" stroke-width="0.8" />
<rect x="480.20" y="307.40" width="14.70" height="9.40" fill="#FF8C00" stroke="#333" stroke-width="0.8" />
<line x1="480.20" y1="310.00" x2="494.90" y2="310.00" stroke="#333" stroke-width="1.4" />
<line x1="507.10" y1="314.40" x2="507.10" y2="317.70" stroke="#333" stroke-width="0.8" />
<line x1="507.10" y1="327.80" x2="507.10" y2="334.30" stroke="#333" stroke-width="0.8" />
<rect x="499.75" y="317.70" width="14.70" height="10.10" fill="#4DAF4A" stroke="#333" stroke-width="0.8" />
<line x1="499.75" y1="321.30" x2="514.45" y2="321.30" stroke="#333" stroke-width="1.4" />
<line x1="526.60" y1="249.20" x2="526.60" y2="267.90" stroke="#333" stroke-width="0.8" />
<line x1="526.60" y1="308.30" x2="526.60" y2="330.20" stroke="#333" stroke-width="0.8" />
<rect x="519.25" y="267.90" width="14.70" height="40.40" fill="#984EA3" stroke="#333" stroke-width="0.8" />
<line x1="519.25" y1="286.70" x2="533.95" y2="286.70" stroke="#333" stroke-width="1.4" />
<rect x="581.20" y="146.00" width="102.20" height="13.20" fill="#d3d3d3" stroke="#333" stroke-width="0.9" />
<rect x="581.20" y="159.20" width="102.20" height="182.60" fill="#fff" stroke="#333" stroke-width="0.9" />
<text x="632.30" y="155.20" font-size="7.3" fill="#111" text-anchor="middle" font-weight="bold" >Chao1</text>
<line x1="579.20" y1="181.20" x2="581.20" y2="181.20" stroke="#333" stroke-width="0.8" />
<text x="577.90" y="185.30" font-size="10.3" fill="#4d4d4d" text-anchor="end" font-weight="normal" >1200</text>
<line x1="579.20" y1="237.80" x2="581.20" y2="237.80" stroke="#333" stroke-width="0.8" />
<text x="577.90" y="241.90" font-size="10.3" fill="#4d4d4d" text-anchor="end" font-weight="normal" >1000</text>
<line x1="579.20" y1="294.80" x2="581.20" y2="294.80" stroke="#333" stroke-width="0.8" />
<text x="577.90" y="298.90" font-size="10.3" fill="#4d4d4d" text-anchor="end" font-weight="normal" >800</text>
<line x1="593.20" y1="341.80" x2="593.20" y2="343.80" stroke="#333" stroke-width="0.8" />
<text x="593.20" y="350.20" font-size="8.4" fill="#555" text-anchor="middle" font-weight="normal" >JA</text>
<line x1="612.78" y1="341.80" x2="612.78" y2="343.80" stroke="#333" stroke-width="0.8" />
<text x="612.78" y="350.20" font-size="8.4" fill="#555" text-anchor="middle" font-weight="normal" >JB</text>
<line x1="632.36" y1="341.80" x2="632.36" y2="343.80" stroke="#333" stroke-width="0.8" />
<text x="632.36" y="350.20" font-size="8.4" fill="#555" text-anchor="middle" font-weight="normal" >Wck</text>
<line x1="651.94" y1="341.80" x2="651.94" y2="343.80" stroke="#333" stroke-width="0.8" />
<text x="651.94" y="350.20" font-size="8.4" fill="#555" text-anchor="middle" font-weight="normal" >ZA</text>
<line x1="671.52" y1="341.80" x2="671.52" y2="343.80" stroke="#333" stroke-width="0.8" />
<text x="671.52" y="350.20" font-size="8.4" fill="#555" text-anchor="middle" font-weight="normal" >ZB</text>
<polyline points="593.20,246.95 593.20,244.35 612.78,244.35 612.78,246.95" fill="none" stroke="#1a1a1a" stroke-width="1.0"/>
<text x="602.99" y="242.25" font-size="6.25" fill="#000" text-anchor="middle" font-weight="normal" >NS.</text>
<polyline points="593.20,238.40 593.20,235.80 632.36,235.80 632.36,238.40" fill="none" stroke="#1a1a1a" stroke-width="1.0"/>
<text x="612.78" y="233.70" font-size="6.25" fill="#000" text-anchor="middle" font-weight="normal" >NS.</text>
<polyline points="593.20,229.85 593.20,227.25 651.94,227.25 651.94,229.85" fill="none" stroke="#1a1a1a" stroke-width="1.0"/>
<text x="622.57" y="225.15" font-size="6.25" fill="#000" text-anchor="middle" font-weight="normal" >NS.</text>
<polyline points="593.20,221.30 593.20,218.70 671.52,218.70 671.52,221.30" fill="none" stroke="#1a1a1a" stroke-width="1.0"/>
<text x="632.36" y="216.60" font-size="6.25" fill="#000" text-anchor="middle" font-weight="normal" >NS.</text>
<polyline points="612.78,212.75 612.78,210.15 632.36,210.15 632.36,212.75" fill="none" stroke="#1a1a1a" stroke-width="1.0"/>
<text x="622.57" y="208.05" font-size="6.25" fill="#000" text-anchor="middle" font-weight="normal" >NS.</text>
<polyline points="612.78,204.20 612.78,201.60 651.94,201.60 651.94,204.20" fill="none" stroke="#1a1a1a" stroke-width="1.0"/>
<text x="632.36" y="199.50" font-size="6.25" fill="#000" text-anchor="middle" font-weight="normal" >NS.</text>
<polyline points="612.78,195.65 612.78,193.05 671.52,193.05 671.52,195.65" fill="none" stroke="#1a1a1a" stroke-width="1.0"/>
<text x="642.15" y="190.95" font-size="6.25" fill="#000" text-anchor="middle" font-weight="normal" >NS.</text>
<polyline points="632.36,187.10 632.36,184.50 651.94,184.50 651.94,187.10" fill="none" stroke="#1a1a1a" stroke-width="1.0"/>
<text x="642.15" y="182.40" font-size="6.25" fill="#000" text-anchor="middle" font-weight="normal" >NS.</text>
<polyline points="632.36,178.55 632.36,175.95 671.52,175.95 671.52,178.55" fill="none" stroke="#1a1a1a" stroke-width="1.0"/>
<text x="651.94" y="173.85" font-size="6.25" fill="#000" text-anchor="middle" font-weight="normal" >NS.</text>
<polyline points="651.94,170.00 651.94,167.40 671.52,167.40 671.52,170.00" fill="none" stroke="#1a1a1a" stroke-width="1.0"/>
<text x="661.73" y="165.30" font-size="6.25" fill="#000" text-anchor="middle" font-weight="normal" >NS.</text>
<line x1="593.20" y1="259.30" x2="593.20" y2="279.50" stroke="#333" stroke-width="0.8" />
<line x1="593.20" y1="306.90" x2="593.20" y2="314.20" stroke="#333" stroke-width="0.8" />
<rect x="585.85" y="279.50" width="14.70" height="27.40" fill="#E41A1C" stroke="#333" stroke-width="0.8" />
<line x1="585.85" y1="299.90" x2="600.55" y2="299.90" stroke="#333" stroke-width="1.4" />
<line x1="612.78" y1="264.90" x2="612.78" y2="271.50" stroke="#333" stroke-width="0.8" />
<line x1="612.78" y1="295.90" x2="612.78" y2="313.00" stroke="#333" stroke-width="0.8" />
<rect x="605.43" y="271.50" width="14.70" height="24.40" fill="#1E90FF" stroke="#333" stroke-width="0.8" />
<line x1="605.43" y1="277.80" x2="620.13" y2="277.80" stroke="#333" stroke-width="1.4" />
<line x1="632.36" y1="304.60" x2="632.36" y2="307.40" stroke="#333" stroke-width="0.8" />
<line x1="632.36" y1="316.80" x2="632.36" y2="323.80" stroke="#333" stroke-width="0.8" />
<rect x="625.01" y="307.40" width="14.70" height="9.40" fill="#FF8C00" stroke="#333" stroke-width="0.8" />
<line x1="625.01" y1="310.00" x2="639.71" y2="310.00" stroke="#333" stroke-width="1.4" />
<line x1="651.94" y1="314.40" x2="651.94" y2="317.70" stroke="#333" stroke-width="0.8" />
<line x1="651.94" y1="327.80" x2="651.94" y2="334.30" stroke="#333" stroke-width="0.8" />
<rect x="644.59" y="317.70" width="14.70" height="10.10" fill="#4DAF4A" stroke="#333" stroke-width="0.8" />
<line x1="644.59" y1="321.30" x2="659.29" y2="321.30" stroke="#333" stroke-width="1.4" />
<line x1="671.52" y1="249.20" x2="671.52" y2="267.90" stroke="#333" stroke-width="0.8" />
<line x1="671.52" y1="308.30" x2="671.52" y2="330.20" stroke="#333" stroke-width="0.8" />
<rect x="664.17" y="267.90" width="14.70" height="40.40" fill="#984EA3" stroke="#333" stroke-width="0.8" />
<line x1="664.17" y1="286.70" x2="678.87" y2="286.70" stroke="#333" stroke-width="1.4" />
<rect x="437.20" y="359.60" width="101.20" height="13.80" fill="#d3d3d3" stroke="#333" stroke-width="0.9" />
<rect x="437.20" y="373.40" width="101.20" height="189.60" fill="#fff" stroke="#333" stroke-width="0.9" />
<text x="487.80" y="369.10" font-size="7.3" fill="#111" text-anchor="middle" font-weight="bold" >Shannon</text>
<line x1="435.20" y1="381.30" x2="437.20" y2="381.30" stroke="#333" stroke-width="0.8" />
<text x="433.90" y="385.40" font-size="10.3" fill="#4d4d4d" text-anchor="end" font-weight="normal" >6.75</text>
<line x1="435.20" y1="426.70" x2="437.20" y2="426.70" stroke="#333" stroke-width="0.8" />
<text x="433.90" y="430.80" font-size="10.3" fill="#4d4d4d" text-anchor="end" font-weight="normal" >6.50</text>
<line x1="435.20" y1="472.10" x2="437.20" y2="472.10" stroke="#333" stroke-width="0.8" />
<text x="433.90" y="476.20" font-size="10.3" fill="#4d4d4d" text-anchor="end" font-weight="normal" >6.25</text>
<line x1="435.20" y1="517.50" x2="437.20" y2="517.50" stroke="#333" stroke-width="0.8" />
<text x="433.90" y="521.60" font-size="10.3" fill="#4d4d4d" text-anchor="end" font-weight="normal" >6.00</text>
<line x1="435.20" y1="562.00" x2="437.20" y2="562.00" stroke="#333" stroke-width="0.8" />
<text x="433.90" y="566.10" font-size="10.3" fill="#4d4d4d" text-anchor="end" font-weight="normal" >5.75</text>
<line x1="448.50" y1="563.00" x2="448.50" y2="565.00" stroke="#333" stroke-width="0.8" />
<text x="448.50" y="571.90" font-size="8.4" fill="#555" text-anchor="middle" font-weight="normal" >JA</text>
<line x1="468.00" y1="563.00" x2="468.00" y2="565.00" stroke="#333" stroke-width="0.8" />
<text x="468.00" y="571.90" font-size="8.4" fill="#555" text-anchor="middle" font-weight="normal" >JB</text>
<line x1="487.55" y1="563.00" x2="487.55" y2="565.00" stroke="#333" stroke-width="0.8" />
<text x="487.55" y="571.90" font-size="8.4" fill="#555" text-anchor="middle" font-weight="normal" >Wck</text>
<line x1="507.10" y1="563.00" x2="507.10" y2="565.00" stroke="#333" stroke-width="0.8" />
<text x="507.10" y="571.90" font-size="8.4" fill="#555" text-anchor="middle" font-weight="normal" >ZA</text>
<line x1="526.60" y1="563.00" x2="526.60" y2="565.00" stroke="#333" stroke-width="0.8" />
<text x="526.60" y="571.90" font-size="8.4" fill="#555" text-anchor="middle" font-weight="normal" >ZB</text>
<polyline points="448.50,464.97 448.50,462.37 468.00,462.37 468.00,464.97" fill="none" stroke="#1a1a1a" stroke-width="1.0"/>
<text x="458.25" y="460.27" font-size="6.25" fill="#000" text-anchor="middle" font-weight="normal" >NS.</text>
<polyline points="448.50,456.04 448.50,453.44 487.55,453.44 487.55,456.04" fill="none" stroke="#1a1a1a" stroke-width="1.0"/>
<text x="468.02" y="451.34" font-size="6.25" fill="#000" text-anchor="middle" font-weight="normal" >NS.</text>
<polyline points="448.50,447.11 448.50,444.51 507.10,444.51 507.10,447.11" fill="none" stroke="#1a1a1a" stroke-width="1.0"/>
<text x="477.80" y="442.41" font-size="6.25" fill="#000" text-anchor="middle" font-weight="normal" >NS.</text>
<polyline points="448.50,438.18 448.50,435.58 526.60,435.58 526.60,438.18" fill="none" stroke="#1a1a1a" stroke-width="1.0"/>
<text x="487.55" y="433.48" font-size="6.25" fill="#000" text-anchor="middle" font-weight="normal" >NS.</text>
<polyline points="468.00,429.25 468.00,426.65 487.55,426.65 487.55,429.25" fill="none" stroke="#1a1a1a" stroke-width="1.0"/>
<text x="477.77" y="424.55" font-size="6.25" fill="#000" text-anchor="middle" font-weight="normal" >NS.</text>
<polyline points="468.00,420.32 468.00,417.72 507.10,417.72 507.10,420.32" fill="none" stroke="#1a1a1a" stroke-width="1.0"/>
<text x="487.55" y="415.62" font-size="6.25" fill="#000" text-anchor="middle" font-weight="normal" >NS.</text>
<polyline points="468.00,411.39 468.00,408.79 526.60,408.79 526.60,411.39" fill="none" stroke="#1a1a1a" stroke-width="1.0"/>
<text x="497.30" y="406.69" font-size="6.25" fill="#000" text-anchor="middle" font-weight="normal" >NS.</text>
<polyline points="487.55,402.46 487.55,399.86 507.10,399.86 507.10,402.46" fill="none" stroke="#1a1a1a" stroke-width="1.0"/>
<text x="497.33" y="397.76" font-size="6.25" fill="#000" text-anchor="middle" font-weight="normal" >NS.</text>
<polyline points="487.55,393.53 487.55,390.93 526.60,390.93 526.60,393.53" fill="none" stroke="#1a1a1a" stroke-width="1.0"/>
<text x="507.08" y="388.83" font-size="6.25" fill="#000" text-anchor="middle" font-weight="normal" >NS.</text>
<polyline points="507.10,384.60 507.10,382.00 526.60,382.00 526.60,384.60" fill="none" stroke="#1a1a1a" stroke-width="1.0"/>
<text x="516.85" y="379.90" font-size="6.25" fill="#000" text-anchor="middle" font-weight="normal" >NS.</text>
<line x1="448.50" y1="489.80" x2="448.50" y2="509.40" stroke="#333" stroke-width="0.8" />
<line x1="448.50" y1="533.60" x2="448.50" y2="537.50" stroke="#333" stroke-width="0.8" />
<rect x="441.15" y="509.40" width="14.70" height="24.20" fill="#E41A1C" stroke="#333" stroke-width="0.8" />
<line x1="441.15" y1="529.70" x2="455.85" y2="529.70" stroke="#333" stroke-width="1.4" />
<line x1="468.00" y1="478.90" x2="468.00" y2="491.00" stroke="#333" stroke-width="0.8" />
<line x1="468.00" y1="507.80" x2="468.00" y2="510.20" stroke="#333" stroke-width="0.8" />
<rect x="460.65" y="491.00" width="14.70" height="16.80" fill="#1E90FF" stroke="#333" stroke-width="0.8" />
<line x1="460.65" y1="503.90" x2="475.35" y2="503.90" stroke="#333" stroke-width="1.4" />
<line x1="487.55" y1="500.00" x2="487.55" y2="516.80" stroke="#333" stroke-width="0.8" />
<rect x="480.20" y="516.80" width="14.70" height="16.80" fill="#FF8C00" stroke="#333" stroke-width="0.8" />
<line x1="480.20" y1="532.90" x2="494.90" y2="532.90" stroke="#333" stroke-width="1.4" />
<line x1="507.10" y1="539.80" x2="507.10" y2="554.70" stroke="#333" stroke-width="0.8" />
<rect x="499.75" y="522.30" width="14.70" height="17.50" fill="#4DAF4A" stroke="#333" stroke-width="0.8" />
<line x1="499.75" y1="523.20" x2="514.45" y2="523.20" stroke="#333" stroke-width="1.4" />
<line x1="526.60" y1="466.00" x2="526.60" y2="487.90" stroke="#333" stroke-width="0.8" />
<line x1="526.60" y1="513.70" x2="526.60" y2="517.20" stroke="#333" stroke-width="0.8" />
<rect x="519.25" y="487.90" width="14.70" height="25.80" fill="#984EA3" stroke="#333" stroke-width="0.8" />
<line x1="519.25" y1="509.80" x2="533.95" y2="509.80" stroke="#333" stroke-width="1.4" />
<rect x="581.40" y="359.60" width="101.40" height="13.90" fill="#d3d3d3" stroke="#333" stroke-width="0.9" />
<rect x="581.40" y="373.50" width="101.40" height="189.50" fill="#fff" stroke="#333" stroke-width="0.9" />
<text x="632.10" y="369.15" font-size="7.3" fill="#111" text-anchor="middle" font-weight="bold" >Simpson</text>
<line x1="579.40" y1="420.20" x2="581.40" y2="420.20" stroke="#333" stroke-width="0.8" />
<text x="578.10" y="424.30" font-size="10.3" fill="#4d4d4d" text-anchor="end" font-weight="normal" >1.000</text>
<line x1="579.40" y1="471.40" x2="581.40" y2="471.40" stroke="#333" stroke-width="0.8" />
<text x="578.10" y="475.50" font-size="10.3" fill="#4d4d4d" text-anchor="end" font-weight="normal" >0.996</text>
<line x1="579.40" y1="522.50" x2="581.40" y2="522.50" stroke="#333" stroke-width="0.8" />
<text x="578.10" y="526.60" font-size="10.3" fill="#4d4d4d" text-anchor="end" font-weight="normal" >0.992</text>
<line x1="593.20" y1="563.00" x2="593.20" y2="565.00" stroke="#333" stroke-width="0.8" />
<text x="593.20" y="571.90" font-size="8.4" fill="#555" text-anchor="middle" font-weight="normal" >JA</text>
<line x1="612.67" y1="563.00" x2="612.67" y2="565.00" stroke="#333" stroke-width="0.8" />
<text x="612.67" y="571.90" font-size="8.4" fill="#555" text-anchor="middle" font-weight="normal" >JB</text>
<line x1="632.14" y1="563.00" x2="632.14" y2="565.00" stroke="#333" stroke-width="0.8" />
<text x="632.14" y="571.90" font-size="8.4" fill="#555" text-anchor="middle" font-weight="normal" >Wck</text>
<line x1="651.61" y1="563.00" x2="651.61" y2="565.00" stroke="#333" stroke-width="0.8" />
<text x="651.61" y="571.90" font-size="8.4" fill="#555" text-anchor="middle" font-weight="normal" >ZA</text>
<line x1="671.08" y1="563.00" x2="671.08" y2="565.00" stroke="#333" stroke-width="0.8" />
<text x="671.08" y="571.90" font-size="8.4" fill="#555" text-anchor="middle" font-weight="normal" >ZB</text>
<polyline points="593.20,464.67 593.20,462.07 612.67,462.07 612.67,464.67" fill="none" stroke="#1a1a1a" stroke-width="1.0"/>
<text x="602.94" y="459.97" font-size="6.25" fill="#000" text-anchor="middle" font-weight="normal" >NS.</text>
<polyline points="593.20,455.74 593.20,453.14 632.14,453.14 632.14,455.74" fill="none" stroke="#1a1a1a" stroke-width="1.0"/>
<text x="612.67" y="451.04" font-size="6.25" fill="#000" text-anchor="middle" font-weight="normal" >NS.</text>
<polyline points="593.20,446.81 593.20,444.21 651.61,444.21 651.61,446.81" fill="none" stroke="#1a1a1a" stroke-width="1.0"/>
<text x="622.40" y="442.11" font-size="6.25" fill="#000" text-anchor="middle" font-weight="normal" >NS.</text>
<polyline points="593.20,437.88 593.20,435.28 671.08,435.28 671.08,437.88" fill="none" stroke="#1a1a1a" stroke-width="1.0"/>
<text x="632.14" y="433.18" font-size="6.25" fill="#000" text-anchor="middle" font-weight="normal" >NS.</text>
<polyline points="612.67,428.95 612.67,426.35 632.14,426.35 632.14,428.95" fill="none" stroke="#1a1a1a" stroke-width="1.0"/>
<text x="622.41" y="424.25" font-size="6.25" fill="#000" text-anchor="middle" font-weight="normal" >NS.</text>
<polyline points="612.67,420.02 612.67,417.42 651.61,417.42 651.61,420.02" fill="none" stroke="#1a1a1a" stroke-width="1.0"/>
<text x="632.14" y="415.32" font-size="6.25" fill="#000" text-anchor="middle" font-weight="normal" >NS.</text>
<polyline points="612.67,411.09 612.67,408.49 671.08,408.49 671.08,411.09" fill="none" stroke="#1a1a1a" stroke-width="1.0"/>
<text x="641.88" y="406.39" font-size="6.25" fill="#000" text-anchor="middle" font-weight="normal" >NS.</text>
<polyline points="632.14,402.16 632.14,399.56 651.61,399.56 651.61,402.16" fill="none" stroke="#1a1a1a" stroke-width="1.0"/>
<text x="641.88" y="397.46" font-size="6.25" fill="#000" text-anchor="middle" font-weight="normal" >NS.</text>
<polyline points="632.14,393.23 632.14,390.63 671.08,390.63 671.08,393.23" fill="none" stroke="#1a1a1a" stroke-width="1.0"/>
<text x="651.61" y="388.53" font-size="6.25" fill="#000" text-anchor="middle" font-weight="normal" >NS.</text>
<polyline points="651.61,384.30 651.61,381.70 671.08,381.70 671.08,384.30" fill="none" stroke="#1a1a1a" stroke-width="1.0"/>
<text x="661.35" y="379.60" font-size="6.25" fill="#000" text-anchor="middle" font-weight="normal" >NS.</text>
<line x1="593.20" y1="503.40" x2="593.20" y2="511.60" stroke="#333" stroke-width="0.8" />
<line x1="593.20" y1="526.40" x2="593.20" y2="532.60" stroke="#333" stroke-width="0.8" />
<rect x="585.85" y="511.60" width="14.70" height="14.80" fill="#E41A1C" stroke="#333" stroke-width="0.8" />
<line x1="585.85" y1="519.40" x2="600.55" y2="519.40" stroke="#333" stroke-width="1.4" />
<line x1="612.67" y1="468.70" x2="612.67" y2="473.00" stroke="#333" stroke-width="0.8" />
<line x1="612.67" y1="491.70" x2="612.67" y2="505.70" stroke="#333" stroke-width="0.8" />
<rect x="605.32" y="473.00" width="14.70" height="18.70" fill="#1E90FF" stroke="#333" stroke-width="0.8" />
<line x1="605.32" y1="477.60" x2="620.02" y2="477.60" stroke="#333" stroke-width="1.4" />
<line x1="632.14" y1="475.70" x2="632.14" y2="498.70" stroke="#333" stroke-width="0.8" />
<line x1="632.14" y1="525.60" x2="632.14" y2="529.10" stroke="#333" stroke-width="0.8" />
<rect x="624.79" y="498.70" width="14.70" height="26.90" fill="#FF8C00" stroke="#333" stroke-width="0.8" />
<line x1="624.79" y1="521.70" x2="639.49" y2="521.70" stroke="#333" stroke-width="1.4" />
<line x1="651.61" y1="496.80" x2="651.61" y2="506.90" stroke="#333" stroke-width="0.8" />
<line x1="651.61" y1="536.10" x2="651.61" y2="554.90" stroke="#333" stroke-width="0.8" />
<rect x="644.26" y="506.90" width="14.70" height="29.20" fill="#4DAF4A" stroke="#333" stroke-width="0.8" />
<line x1="644.26" y1="517.00" x2="658.96" y2="517.00" stroke="#333" stroke-width="1.4" />
<line x1="671.08" y1="485.40" x2="671.08" y2="501.80" stroke="#333" stroke-width="0.8" />
<rect x="663.73" y="467.50" width="14.70" height="17.90" fill="#984EA3" stroke="#333" stroke-width="0.8" />
<line x1="663.73" y1="468.40" x2="678.43" y2="468.40" stroke="#333" stroke-width="1.4" />
</svg>
</body>
</html>
